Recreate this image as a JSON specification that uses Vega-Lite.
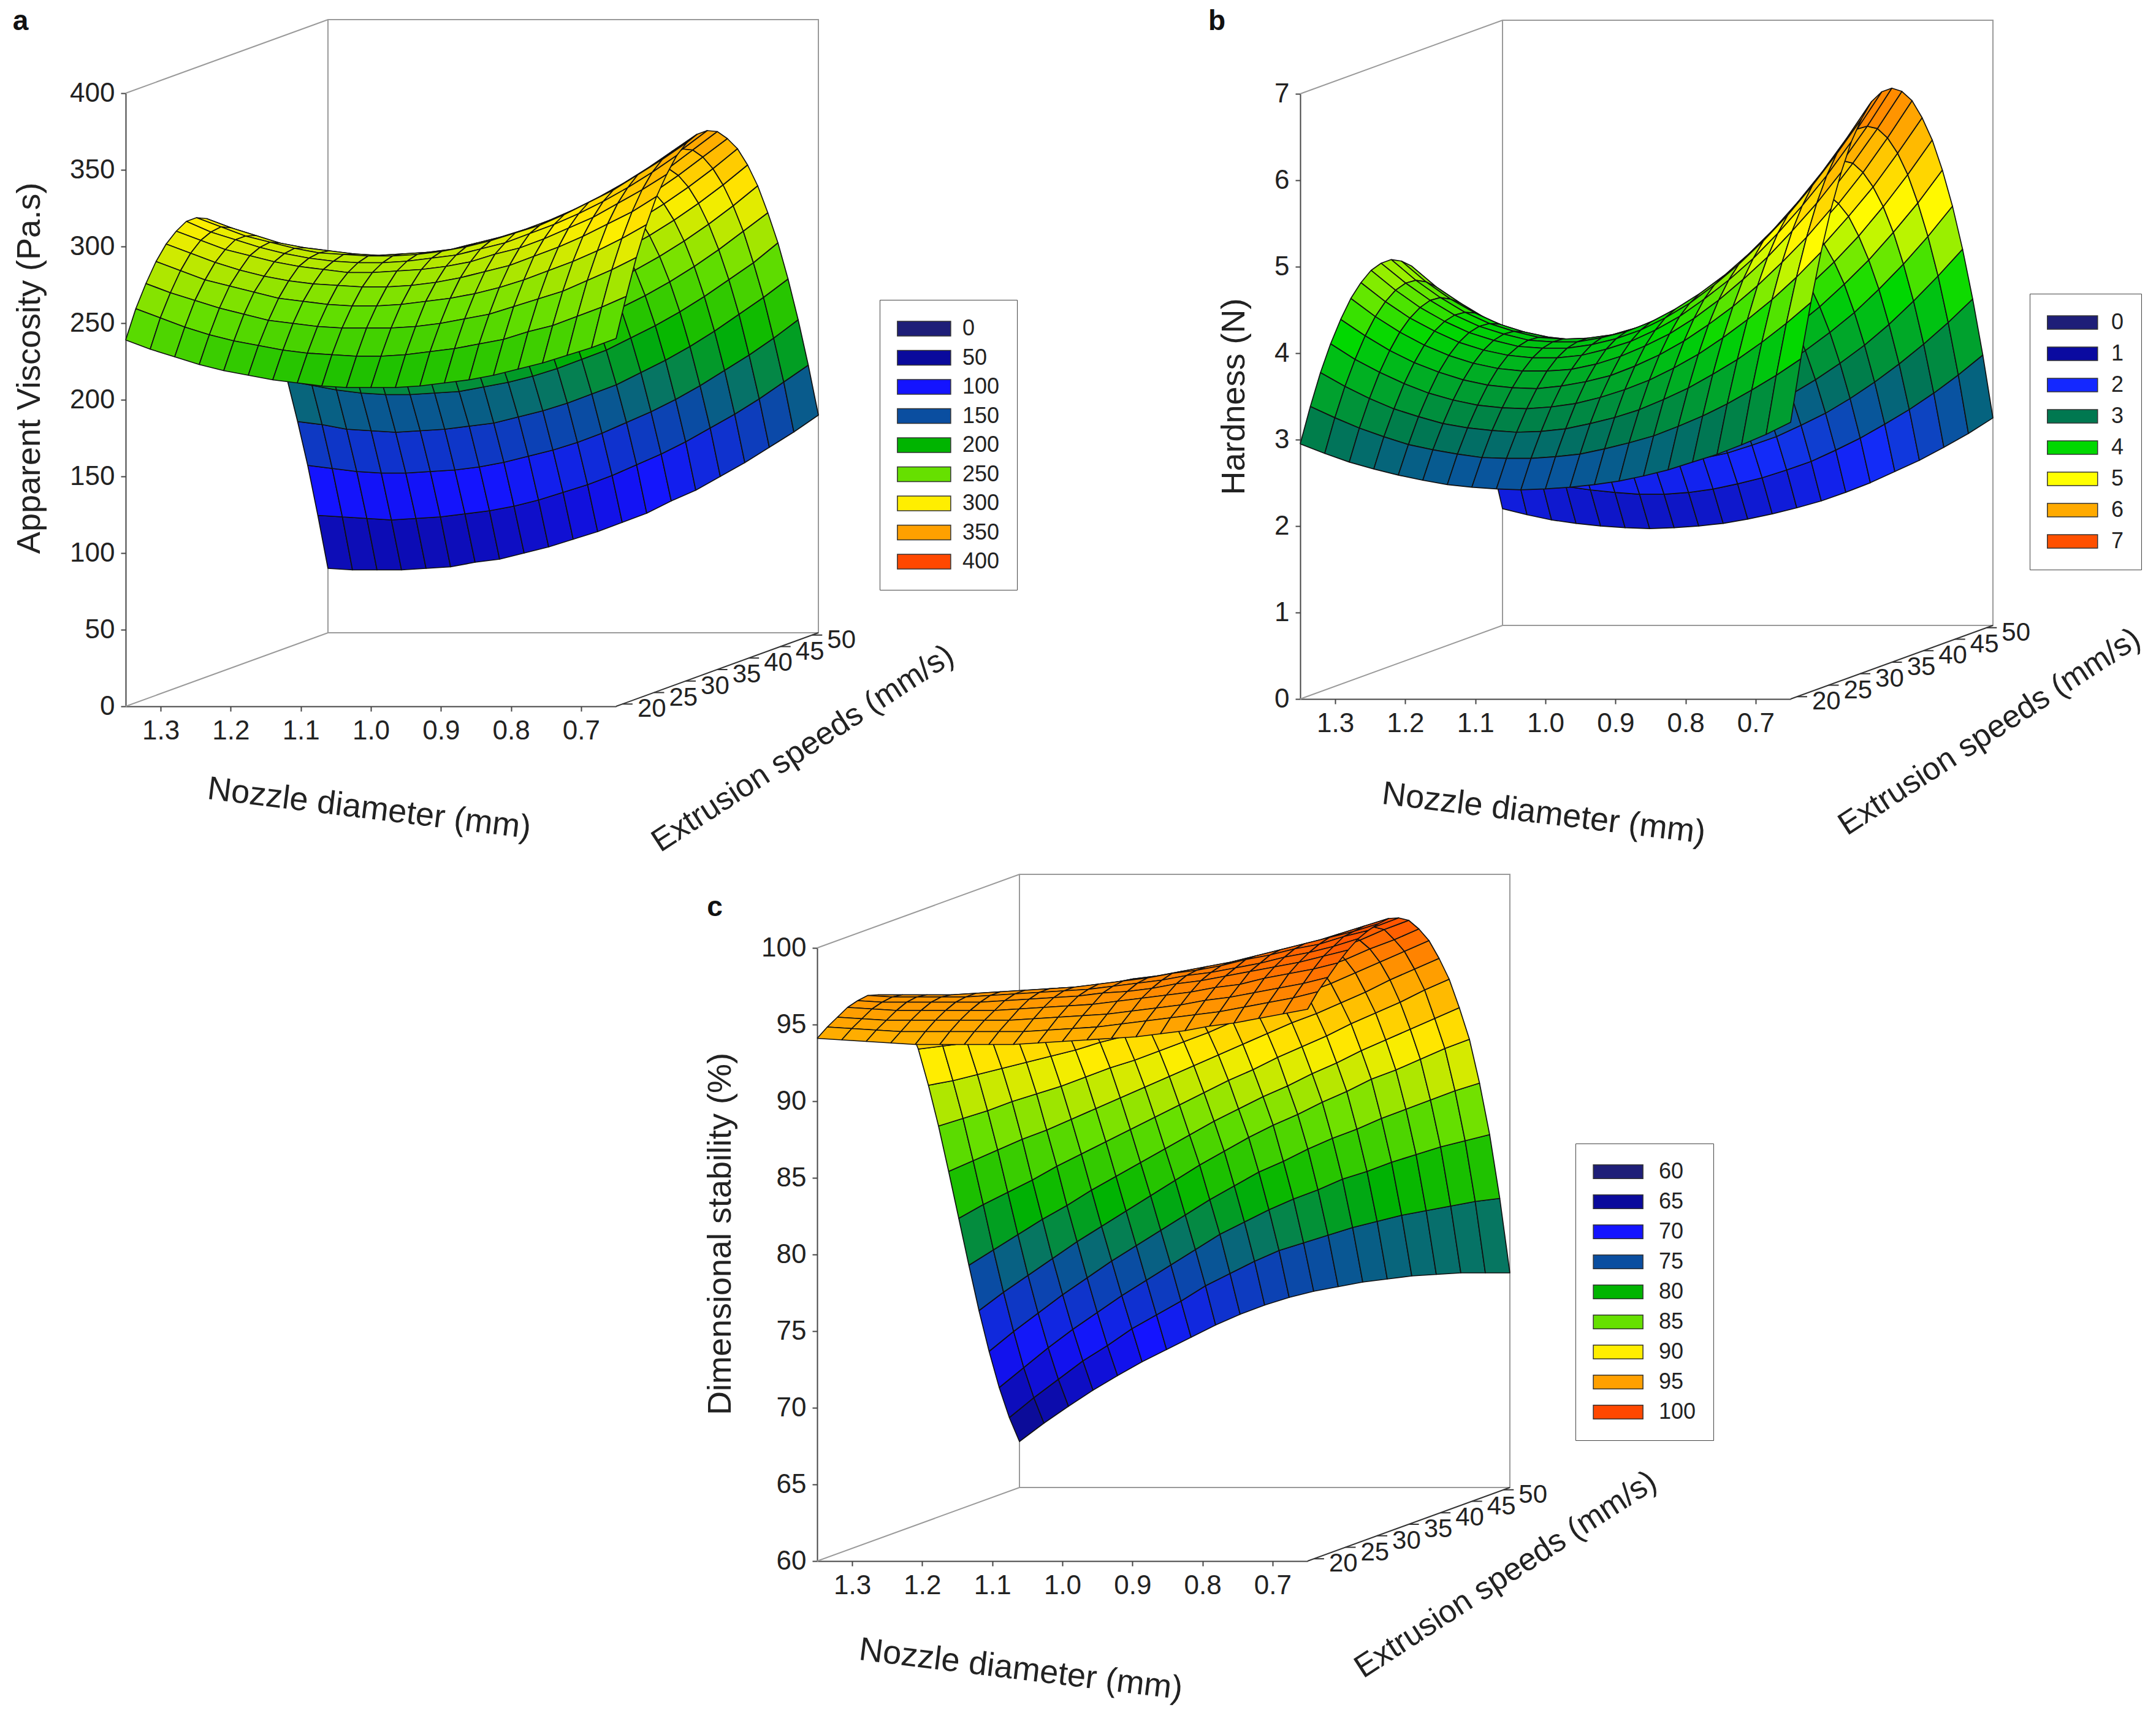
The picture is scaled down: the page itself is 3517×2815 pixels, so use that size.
{
"$schema":"https://vega.github.io/schema/vega-lite/v6.json",
"width":3517,"height":2815,"autosize":"none","padding":0,"background":"white",
"config":{"view":{"stroke":null},"font":"Liberation Sans",
"axis":{"labelFont":"Liberation Sans","titleFont":"Liberation Sans","labelFontSize":44,"titleFontSize":54,"titleFontWeight":"normal","labelColor":"#222","titleColor":"#222","domainColor":"#444","tickColor":"#444","domainWidth":2,"tickWidth":2,"tickSize":8,"grid":false,"labelPadding":10},
"legend":{"labelFont":"Liberation Sans","labelFontSize":36,"labelColor":"#222","symbolStrokeColor":"#333","symbolStrokeWidth":1.5,"strokeColor":"#444","fillColor":"white","padding":28,"symbolOpacity":1}},
"datasets":{
"grid":[
{"p":"0_0","n":1.35,"s":19,"va":239,"vb":2.95,"vc":94.1},{"p":"0_1","n":1.35,"s":20.6,"va":257,"vb":3.34,"vc":94.6},{"p":"0_2","n":1.35,"s":22.2,"va":271,"vb":3.69,"vc":95.0},{"p":"0_3","n":1.35,"s":23.8,"va":283,"vb":3.98,"vc":95.4},{"p":"0_4","n":1.35,"s":25.4,"va":292,"vb":4.22,"vc":95.6},{"p":"0_5","n":1.35,"s":27,"va":298,"vb":4.42,"vc":95.7},{"p":"0_6","n":1.35,"s":28.6,"va":302,"vb":4.56,"vc":95.5},{"p":"0_7","n":1.35,"s":30.2,"va":302,"vb":4.66,"vc":95.1},{"p":"0_8","n":1.35,"s":31.8,"va":299,"vb":4.70,"vc":94.3},{"p":"0_9","n":1.35,"s":33.4,"va":294,"vb":4.70,"vc":92.9},{"p":"0_10","n":1.35,"s":35,"va":285,"vb":4.64,"vc":91.0},{"p":"0_11","n":1.35,"s":36.6,"va":274,"vb":4.54,"vc":88.4},{"p":"0_12","n":1.35,"s":38.2,"va":260,"vb":4.38,"vc":85.5},{"p":"0_13","n":1.35,"s":39.8,"va":243,"vb":4.18,"vc":82.3},{"p":"0_14","n":1.35,"s":41.4,"va":223,"vb":3.92,"vc":79.0},{"p":"0_15","n":1.35,"s":43,"va":200,"vb":3.62,"vc":75.7},{"p":"0_16","n":1.35,"s":44.6,"va":174,"vb":3.26,"vc":72.5},{"p":"0_17","n":1.35,"s":46.2,"va":145,"vb":2.86,"vc":69.6},{"p":"0_18","n":1.35,"s":47.8,"va":114,"vb":2.41,"vc":67.0},{"p":"0_19","n":1.35,"s":49.4,"va":79,"vb":1.90,"vc":64.8},{"p":"0_20","n":1.35,"s":51,"va":42,"vb":1.35,"vc":63.0},
{"p":"1_0","n":1.315,"s":19,"va":233,"vb":2.84,"vc":94.0},{"p":"1_1","n":1.315,"s":20.6,"va":251,"vb":3.21,"vc":94.5},{"p":"1_2","n":1.315,"s":22.2,"va":265,"vb":3.53,"vc":94.9},{"p":"1_3","n":1.315,"s":23.8,"va":277,"vb":3.80,"vc":95.3},{"p":"1_4","n":1.315,"s":25.4,"va":286,"vb":4.03,"vc":95.5},{"p":"1_5","n":1.315,"s":27,"va":292,"vb":4.21,"vc":95.6},{"p":"1_6","n":1.315,"s":28.6,"va":295,"vb":4.34,"vc":95.5},{"p":"1_7","n":1.315,"s":30.2,"va":296,"vb":4.43,"vc":95.1},{"p":"1_8","n":1.315,"s":31.8,"va":293,"vb":4.47,"vc":94.4},{"p":"1_9","n":1.315,"s":33.4,"va":288,"vb":4.46,"vc":93.0},{"p":"1_10","n":1.315,"s":35,"va":280,"vb":4.40,"vc":91.2},{"p":"1_11","n":1.315,"s":36.6,"va":269,"vb":4.30,"vc":88.7},{"p":"1_12","n":1.315,"s":38.2,"va":255,"vb":4.15,"vc":86.0},{"p":"1_13","n":1.315,"s":39.8,"va":238,"vb":3.96,"vc":83.0},{"p":"1_14","n":1.315,"s":41.4,"va":218,"vb":3.72,"vc":79.9},{"p":"1_15","n":1.315,"s":43,"va":196,"vb":3.43,"vc":76.7},{"p":"1_16","n":1.315,"s":44.6,"va":171,"vb":3.09,"vc":73.7},{"p":"1_17","n":1.315,"s":46.2,"va":143,"vb":2.71,"vc":70.9},{"p":"1_18","n":1.315,"s":47.8,"va":112,"vb":2.28,"vc":68.3},{"p":"1_19","n":1.315,"s":49.4,"va":78,"vb":1.80,"vc":66.1},{"p":"1_20","n":1.315,"s":51,"va":41,"vb":1.28,"vc":64.2},
{"p":"2_0","n":1.28,"s":19,"va":228,"vb":2.74,"vc":93.9},{"p":"2_1","n":1.28,"s":20.6,"va":245,"vb":3.09,"vc":94.4},{"p":"2_2","n":1.28,"s":22.2,"va":260,"vb":3.39,"vc":94.8},{"p":"2_3","n":1.28,"s":23.8,"va":271,"vb":3.65,"vc":95.2},{"p":"2_4","n":1.28,"s":25.4,"va":280,"vb":3.86,"vc":95.5},{"p":"2_5","n":1.28,"s":27,"va":286,"vb":4.03,"vc":95.6},{"p":"2_6","n":1.28,"s":28.6,"va":290,"vb":4.15,"vc":95.5},{"p":"2_7","n":1.28,"s":30.2,"va":290,"vb":4.23,"vc":95.1},{"p":"2_8","n":1.28,"s":31.8,"va":288,"vb":4.27,"vc":94.4},{"p":"2_9","n":1.28,"s":33.4,"va":283,"vb":4.26,"vc":93.2},{"p":"2_10","n":1.28,"s":35,"va":275,"vb":4.20,"vc":91.4},{"p":"2_11","n":1.28,"s":36.6,"va":264,"vb":4.11,"vc":89.1},{"p":"2_12","n":1.28,"s":38.2,"va":250,"vb":3.96,"vc":86.5},{"p":"2_13","n":1.28,"s":39.8,"va":234,"vb":3.78,"vc":83.7},{"p":"2_14","n":1.28,"s":41.4,"va":215,"vb":3.54,"vc":80.7},{"p":"2_15","n":1.28,"s":43,"va":193,"vb":3.27,"vc":77.7},{"p":"2_16","n":1.28,"s":44.6,"va":168,"vb":2.95,"vc":74.8},{"p":"2_17","n":1.28,"s":46.2,"va":140,"vb":2.58,"vc":72.1},{"p":"2_18","n":1.28,"s":47.8,"va":110,"vb":2.17,"vc":69.6},{"p":"2_19","n":1.28,"s":49.4,"va":77,"vb":1.72,"vc":67.3},{"p":"2_20","n":1.28,"s":51,"va":41,"vb":1.22,"vc":65.3},
{"p":"3_0","n":1.245,"s":19,"va":223,"vb":2.66,"vc":93.8},{"p":"3_1","n":1.245,"s":20.6,"va":240,"vb":2.99,"vc":94.3},{"p":"3_2","n":1.245,"s":22.2,"va":255,"vb":3.27,"vc":94.8},{"p":"3_3","n":1.245,"s":23.8,"va":267,"vb":3.52,"vc":95.2},{"p":"3_4","n":1.245,"s":25.4,"va":275,"vb":3.72,"vc":95.5},{"p":"3_5","n":1.245,"s":27,"va":282,"vb":3.88,"vc":95.6},{"p":"3_6","n":1.245,"s":28.6,"va":285,"vb":4.00,"vc":95.5},{"p":"3_7","n":1.245,"s":30.2,"va":286,"vb":4.07,"vc":95.2},{"p":"3_8","n":1.245,"s":31.8,"va":283,"vb":4.10,"vc":94.5},{"p":"3_9","n":1.245,"s":33.4,"va":278,"vb":4.09,"vc":93.3},{"p":"3_10","n":1.245,"s":35,"va":271,"vb":4.04,"vc":91.6},{"p":"3_11","n":1.245,"s":36.6,"va":260,"vb":3.94,"vc":89.5},{"p":"3_12","n":1.245,"s":38.2,"va":247,"vb":3.81,"vc":87.1},{"p":"3_13","n":1.245,"s":39.8,"va":231,"vb":3.63,"vc":84.4},{"p":"3_14","n":1.245,"s":41.4,"va":212,"vb":3.40,"vc":81.5},{"p":"3_15","n":1.245,"s":43,"va":191,"vb":3.14,"vc":78.7},{"p":"3_16","n":1.245,"s":44.6,"va":166,"vb":2.83,"vc":75.9},{"p":"3_17","n":1.245,"s":46.2,"va":139,"vb":2.48,"vc":73.3},{"p":"3_18","n":1.245,"s":47.8,"va":109,"vb":2.09,"vc":70.8},{"p":"3_19","n":1.245,"s":49.4,"va":76,"vb":1.65,"vc":68.5},{"p":"3_20","n":1.245,"s":51,"va":41,"vb":1.18,"vc":66.35},
{"p":"4_0","n":1.21,"s":19,"va":219,"vb":2.59,"vc":93.7},{"p":"4_1","n":1.21,"s":20.6,"va":236,"vb":2.90,"vc":94.3},{"p":"4_2","n":1.21,"s":22.2,"va":251,"vb":3.18,"vc":94.8},{"p":"4_3","n":1.21,"s":23.8,"va":263,"vb":3.41,"vc":95.2},{"p":"4_4","n":1.21,"s":25.4,"va":271,"vb":3.61,"vc":95.5},{"p":"4_5","n":1.21,"s":27,"va":278,"vb":3.76,"vc":95.6},{"p":"4_6","n":1.21,"s":28.6,"va":281,"vb":3.87,"vc":95.6},{"p":"4_7","n":1.21,"s":30.2,"va":282,"vb":3.94,"vc":95.3},{"p":"4_8","n":1.21,"s":31.8,"va":280,"vb":3.97,"vc":94.7},{"p":"4_9","n":1.21,"s":33.4,"va":275,"vb":3.96,"vc":93.5},{"p":"4_10","n":1.21,"s":35,"va":268,"vb":3.91,"vc":91.9},{"p":"4_11","n":1.21,"s":36.6,"va":258,"vb":3.82,"vc":89.9},{"p":"4_12","n":1.21,"s":38.2,"va":245,"vb":3.68,"vc":87.6},{"p":"4_13","n":1.21,"s":39.8,"va":229,"vb":3.51,"vc":85.0},{"p":"4_14","n":1.21,"s":41.4,"va":210,"vb":3.29,"vc":82.4},{"p":"4_15","n":1.21,"s":43,"va":189,"vb":3.04,"vc":79.6},{"p":"4_16","n":1.21,"s":44.6,"va":165,"vb":2.74,"vc":77.0},{"p":"4_17","n":1.21,"s":46.2,"va":138,"vb":2.40,"vc":74.4},{"p":"4_18","n":1.21,"s":47.8,"va":109,"vb":2.03,"vc":71.9},{"p":"4_19","n":1.21,"s":49.4,"va":77,"vb":1.61,"vc":69.5},{"p":"4_20","n":1.21,"s":51,"va":42,"vb":1.15,"vc":67.3},
{"p":"5_0","n":1.175,"s":19,"va":216,"vb":2.53,"vc":93.7},{"p":"5_1","n":1.175,"s":20.6,"va":233,"vb":2.84,"vc":94.3},{"p":"5_2","n":1.175,"s":22.2,"va":247,"vb":3.10,"vc":94.8},{"p":"5_3","n":1.175,"s":23.8,"va":259,"vb":3.33,"vc":95.2},{"p":"5_4","n":1.175,"s":25.4,"va":268,"vb":3.52,"vc":95.5},{"p":"5_5","n":1.175,"s":27,"va":275,"vb":3.67,"vc":95.7},{"p":"5_6","n":1.175,"s":28.6,"va":278,"vb":3.78,"vc":95.7},{"p":"5_7","n":1.175,"s":30.2,"va":279,"vb":3.85,"vc":95.4},{"p":"5_8","n":1.175,"s":31.8,"va":278,"vb":3.88,"vc":94.8},{"p":"5_9","n":1.175,"s":33.4,"va":273,"vb":3.87,"vc":93.7},{"p":"5_10","n":1.175,"s":35,"va":266,"vb":3.82,"vc":92.2},{"p":"5_11","n":1.175,"s":36.6,"va":256,"vb":3.73,"vc":90.3},{"p":"5_12","n":1.175,"s":38.2,"va":243,"vb":3.60,"vc":88.1},{"p":"5_13","n":1.175,"s":39.8,"va":228,"vb":3.43,"vc":85.7},{"p":"5_14","n":1.175,"s":41.4,"va":210,"vb":3.22,"vc":83.2},{"p":"5_15","n":1.175,"s":43,"va":189,"vb":2.97,"vc":80.6},{"p":"5_16","n":1.175,"s":44.6,"va":165,"vb":2.68,"vc":78.0},{"p":"5_17","n":1.175,"s":46.2,"va":139,"vb":2.35,"vc":75.5},{"p":"5_18","n":1.175,"s":47.8,"va":110,"vb":1.98,"vc":73.0},{"p":"5_19","n":1.175,"s":49.4,"va":78,"vb":1.58,"vc":70.6},{"p":"5_20","n":1.175,"s":51,"va":43,"vb":1.13,"vc":68.2},
{"p":"6_0","n":1.14,"s":19,"va":213,"vb":2.48,"vc":93.7},{"p":"6_1","n":1.14,"s":20.6,"va":230,"vb":2.79,"vc":94.3},{"p":"6_2","n":1.14,"s":22.2,"va":245,"vb":3.05,"vc":94.8},{"p":"6_3","n":1.14,"s":23.8,"va":257,"vb":3.27,"vc":95.2},{"p":"6_4","n":1.14,"s":25.4,"va":266,"vb":3.46,"vc":95.6},{"p":"6_5","n":1.14,"s":27,"va":273,"vb":3.61,"vc":95.8},{"p":"6_6","n":1.14,"s":28.6,"va":276,"vb":3.72,"vc":95.8},{"p":"6_7","n":1.14,"s":30.2,"va":278,"vb":3.78,"vc":95.5},{"p":"6_8","n":1.14,"s":31.8,"va":276,"vb":3.81,"vc":95.0},{"p":"6_9","n":1.14,"s":33.4,"va":272,"vb":3.80,"vc":94.0},{"p":"6_10","n":1.14,"s":35,"va":265,"vb":3.76,"vc":92.5},{"p":"6_11","n":1.14,"s":36.6,"va":255,"vb":3.67,"vc":90.7},{"p":"6_12","n":1.14,"s":38.2,"va":243,"vb":3.54,"vc":88.7},{"p":"6_13","n":1.14,"s":39.8,"va":227,"vb":3.38,"vc":86.4},{"p":"6_14","n":1.14,"s":41.4,"va":210,"vb":3.17,"vc":84.0},{"p":"6_15","n":1.14,"s":43,"va":189,"vb":2.93,"vc":81.5},{"p":"6_16","n":1.14,"s":44.6,"va":166,"vb":2.64,"vc":79.0},{"p":"6_17","n":1.14,"s":46.2,"va":140,"vb":2.32,"vc":76.5},{"p":"6_18","n":1.14,"s":47.8,"va":111,"vb":1.96,"vc":74.0},{"p":"6_19","n":1.14,"s":49.4,"va":80,"vb":1.56,"vc":71.5},{"p":"6_20","n":1.14,"s":51,"va":46,"vb":1.12,"vc":69.0},
{"p":"7_0","n":1.105,"s":19,"va":211,"vb":2.45,"vc":93.7},{"p":"7_1","n":1.105,"s":20.6,"va":228,"vb":2.75,"vc":94.3},{"p":"7_2","n":1.105,"s":22.2,"va":243,"vb":3.02,"vc":94.8},{"p":"7_3","n":1.105,"s":23.8,"va":255,"vb":3.24,"vc":95.3},{"p":"7_4","n":1.105,"s":25.4,"va":265,"vb":3.43,"vc":95.7},{"p":"7_5","n":1.105,"s":27,"va":271,"vb":3.58,"vc":95.9},{"p":"7_6","n":1.105,"s":28.6,"va":275,"vb":3.69,"vc":95.9},{"p":"7_7","n":1.105,"s":30.2,"va":277,"vb":3.76,"vc":95.7},{"p":"7_8","n":1.105,"s":31.8,"va":275,"vb":3.79,"vc":95.2},{"p":"7_9","n":1.105,"s":33.4,"va":271,"vb":3.78,"vc":94.2},{"p":"7_10","n":1.105,"s":35,"va":265,"vb":3.73,"vc":92.8},{"p":"7_11","n":1.105,"s":36.6,"va":255,"vb":3.65,"vc":91.2},{"p":"7_12","n":1.105,"s":38.2,"va":243,"vb":3.52,"vc":89.3},{"p":"7_13","n":1.105,"s":39.8,"va":228,"vb":3.36,"vc":87.1},{"p":"7_14","n":1.105,"s":41.4,"va":211,"vb":3.16,"vc":84.8},{"p":"7_15","n":1.105,"s":43,"va":190,"vb":2.92,"vc":82.4},{"p":"7_16","n":1.105,"s":44.6,"va":167,"vb":2.64,"vc":80.0},{"p":"7_17","n":1.105,"s":46.2,"va":142,"vb":2.32,"vc":77.5},{"p":"7_18","n":1.105,"s":47.8,"va":113,"vb":1.96,"vc":75.0},{"p":"7_19","n":1.105,"s":49.4,"va":82,"vb":1.56,"vc":72.4},{"p":"7_20","n":1.105,"s":51,"va":48,"vb":1.13,"vc":69.8},
{"p":"8_0","n":1.07,"s":19,"va":209,"vb":2.43,"vc":93.7},{"p":"8_1","n":1.07,"s":20.6,"va":227,"vb":2.74,"vc":94.3},{"p":"8_2","n":1.07,"s":22.2,"va":242,"vb":3.00,"vc":94.9},{"p":"8_3","n":1.07,"s":23.8,"va":254,"vb":3.23,"vc":95.4},{"p":"8_4","n":1.07,"s":25.4,"va":264,"vb":3.42,"vc":95.8},{"p":"8_5","n":1.07,"s":27,"va":271,"vb":3.58,"vc":96.0},{"p":"8_6","n":1.07,"s":28.6,"va":275,"vb":3.69,"vc":96.0},{"p":"8_7","n":1.07,"s":30.2,"va":277,"vb":3.76,"vc":95.8},{"p":"8_8","n":1.07,"s":31.8,"va":276,"vb":3.79,"vc":95.4},{"p":"8_9","n":1.07,"s":33.4,"va":272,"vb":3.79,"vc":94.5},{"p":"8_10","n":1.07,"s":35,"va":265,"vb":3.74,"vc":93.2},{"p":"8_11","n":1.07,"s":36.6,"va":256,"vb":3.66,"vc":91.6},{"p":"8_12","n":1.07,"s":38.2,"va":244,"vb":3.54,"vc":89.8},{"p":"8_13","n":1.07,"s":39.8,"va":230,"vb":3.38,"vc":87.8},{"p":"8_14","n":1.07,"s":41.4,"va":212,"vb":3.18,"vc":85.6},{"p":"8_15","n":1.07,"s":43,"va":192,"vb":2.94,"vc":83.3},{"p":"8_16","n":1.07,"s":44.6,"va":170,"vb":2.66,"vc":81.0},{"p":"8_17","n":1.07,"s":46.2,"va":144,"vb":2.34,"vc":78.5},{"p":"8_18","n":1.07,"s":47.8,"va":116,"vb":1.98,"vc":76.0},{"p":"8_19","n":1.07,"s":49.4,"va":85,"vb":1.58,"vc":73.4},{"p":"8_20","n":1.07,"s":51,"va":52,"vb":1.15,"vc":70.6},
{"p":"9_0","n":1.035,"s":19,"va":208,"vb":2.42,"vc":93.8},{"p":"9_1","n":1.035,"s":20.6,"va":226,"vb":2.74,"vc":94.4},{"p":"9_2","n":1.035,"s":22.2,"va":242,"vb":3.01,"vc":95.0},{"p":"9_3","n":1.035,"s":23.8,"va":254,"vb":3.25,"vc":95.5},{"p":"9_4","n":1.035,"s":25.4,"va":264,"vb":3.45,"vc":95.9},{"p":"9_5","n":1.035,"s":27,"va":272,"vb":3.60,"vc":96.1},{"p":"9_6","n":1.035,"s":28.6,"va":276,"vb":3.72,"vc":96.2},{"p":"9_7","n":1.035,"s":30.2,"va":278,"vb":3.80,"vc":96.0},{"p":"9_8","n":1.035,"s":31.8,"va":277,"vb":3.84,"vc":95.7},{"p":"9_9","n":1.035,"s":33.4,"va":274,"vb":3.83,"vc":94.8},{"p":"9_10","n":1.035,"s":35,"va":267,"vb":3.79,"vc":93.6},{"p":"9_11","n":1.035,"s":36.6,"va":258,"vb":3.71,"vc":92.1},{"p":"9_12","n":1.035,"s":38.2,"va":247,"vb":3.59,"vc":90.4},{"p":"9_13","n":1.035,"s":39.8,"va":232,"vb":3.43,"vc":88.5},{"p":"9_14","n":1.035,"s":41.4,"va":215,"vb":3.22,"vc":86.4},{"p":"9_15","n":1.035,"s":43,"va":195,"vb":2.98,"vc":84.2},{"p":"9_16","n":1.035,"s":44.6,"va":173,"vb":2.70,"vc":82.0},{"p":"9_17","n":1.035,"s":46.2,"va":148,"vb":2.38,"vc":79.5},{"p":"9_18","n":1.035,"s":47.8,"va":120,"vb":2.02,"vc":77.0},{"p":"9_19","n":1.035,"s":49.4,"va":89,"vb":1.62,"vc":74.2},{"p":"9_20","n":1.035,"s":51,"va":56,"vb":1.18,"vc":71.3},
{"p":"10_0","n":1,"s":19,"va":208,"vb":2.43,"vc":93.9},{"p":"10_1","n":1,"s":20.6,"va":226,"vb":2.76,"vc":94.5},{"p":"10_2","n":1,"s":22.2,"va":242,"vb":3.04,"vc":95.1},{"p":"10_3","n":1,"s":23.8,"va":255,"vb":3.29,"vc":95.6},{"p":"10_4","n":1,"s":25.4,"va":265,"vb":3.50,"vc":96.1},{"p":"10_5","n":1,"s":27,"va":273,"vb":3.66,"vc":96.3},{"p":"10_6","n":1,"s":28.6,"va":278,"vb":3.79,"vc":96.4},{"p":"10_7","n":1,"s":30.2,"va":280,"vb":3.87,"vc":96.3},{"p":"10_8","n":1,"s":31.8,"va":279,"vb":3.91,"vc":96.0},{"p":"10_9","n":1,"s":33.4,"va":276,"vb":3.91,"vc":95.2},{"p":"10_10","n":1,"s":35,"va":270,"vb":3.87,"vc":94.0},{"p":"10_11","n":1,"s":36.6,"va":261,"vb":3.79,"vc":92.6},{"p":"10_12","n":1,"s":38.2,"va":250,"vb":3.67,"vc":91.0},{"p":"10_13","n":1,"s":39.8,"va":236,"vb":3.51,"vc":89.2},{"p":"10_14","n":1,"s":41.4,"va":219,"vb":3.31,"vc":87.2},{"p":"10_15","n":1,"s":43,"va":199,"vb":3.06,"vc":85.1},{"p":"10_16","n":1,"s":44.6,"va":177,"vb":2.78,"vc":82.9},{"p":"10_17","n":1,"s":46.2,"va":152,"vb":2.45,"vc":80.4},{"p":"10_18","n":1,"s":47.8,"va":124,"vb":2.08,"vc":77.8},{"p":"10_19","n":1,"s":49.4,"va":94,"vb":1.68,"vc":75.0},{"p":"10_20","n":1,"s":51,"va":61,"vb":1.23,"vc":71.9},
{"p":"11_0","n":0.965,"s":19,"va":208,"vb":2.45,"vc":94.0},{"p":"11_1","n":0.965,"s":20.6,"va":227,"vb":2.79,"vc":94.6},{"p":"11_2","n":0.965,"s":22.2,"va":243,"vb":3.10,"vc":95.2},{"p":"11_3","n":0.965,"s":23.8,"va":257,"vb":3.36,"vc":95.8},{"p":"11_4","n":0.965,"s":25.4,"va":267,"vb":3.57,"vc":96.2},{"p":"11_5","n":0.965,"s":27,"va":275,"vb":3.75,"vc":96.5},{"p":"11_6","n":0.965,"s":28.6,"va":280,"vb":3.88,"vc":96.6},{"p":"11_7","n":0.965,"s":30.2,"va":283,"vb":3.97,"vc":96.5},{"p":"11_8","n":0.965,"s":31.8,"va":283,"vb":4.02,"vc":96.2},{"p":"11_9","n":0.965,"s":33.4,"va":280,"vb":4.03,"vc":95.5},{"p":"11_10","n":0.965,"s":35,"va":274,"vb":3.99,"vc":94.4},{"p":"11_11","n":0.965,"s":36.6,"va":265,"vb":3.91,"vc":93.1},{"p":"11_12","n":0.965,"s":38.2,"va":254,"vb":3.79,"vc":91.6},{"p":"11_13","n":0.965,"s":39.8,"va":240,"vb":3.63,"vc":89.9},{"p":"11_14","n":0.965,"s":41.4,"va":223,"vb":3.42,"vc":88.0},{"p":"11_15","n":0.965,"s":43,"va":204,"vb":3.17,"vc":85.9},{"p":"11_16","n":0.965,"s":44.6,"va":182,"vb":2.88,"vc":83.8},{"p":"11_17","n":0.965,"s":46.2,"va":157,"vb":2.54,"vc":81.3},{"p":"11_18","n":0.965,"s":47.8,"va":129,"vb":2.17,"vc":78.6},{"p":"11_19","n":0.965,"s":49.4,"va":99,"vb":1.75,"vc":75.7},{"p":"11_20","n":0.965,"s":51,"va":66,"vb":1.29,"vc":72.4},
{"p":"12_0","n":0.93,"s":19,"va":209,"vb":2.48,"vc":94.1},{"p":"12_1","n":0.93,"s":20.6,"va":229,"vb":2.85,"vc":94.8},{"p":"12_2","n":0.93,"s":22.2,"va":245,"vb":3.17,"vc":95.4},{"p":"12_3","n":0.93,"s":23.8,"va":259,"vb":3.45,"vc":96.0},{"p":"12_4","n":0.93,"s":25.4,"va":270,"vb":3.68,"vc":96.4},{"p":"12_5","n":0.93,"s":27,"va":278,"vb":3.87,"vc":96.7},{"p":"12_6","n":0.93,"s":28.6,"va":284,"vb":4.01,"vc":96.9},{"p":"12_7","n":0.93,"s":30.2,"va":287,"vb":4.11,"vc":96.8},{"p":"12_8","n":0.93,"s":31.8,"va":287,"vb":4.17,"vc":96.6},{"p":"12_9","n":0.93,"s":33.4,"va":284,"vb":4.18,"vc":95.9},{"p":"12_10","n":0.93,"s":35,"va":279,"vb":4.14,"vc":94.9},{"p":"12_11","n":0.93,"s":36.6,"va":270,"vb":4.07,"vc":93.7},{"p":"12_12","n":0.93,"s":38.2,"va":259,"vb":3.94,"vc":92.3},{"p":"12_13","n":0.93,"s":39.8,"va":246,"vb":3.78,"vc":90.6},{"p":"12_14","n":0.93,"s":41.4,"va":229,"vb":3.56,"vc":88.7},{"p":"12_15","n":0.93,"s":43,"va":210,"vb":3.31,"vc":86.7},{"p":"12_16","n":0.93,"s":44.6,"va":188,"vb":3.01,"vc":84.6},{"p":"12_17","n":0.93,"s":46.2,"va":163,"vb":2.66,"vc":82.0},{"p":"12_18","n":0.93,"s":47.8,"va":135,"vb":2.27,"vc":79.3},{"p":"12_19","n":0.93,"s":49.4,"va":105,"vb":1.84,"vc":76.2},{"p":"12_20","n":0.93,"s":51,"va":72,"vb":1.36,"vc":72.8},
{"p":"13_0","n":0.895,"s":19,"va":211,"vb":2.52,"vc":94.2},{"p":"13_1","n":0.895,"s":20.6,"va":231,"vb":2.92,"vc":95.0},{"p":"13_2","n":0.895,"s":22.2,"va":248,"vb":3.26,"vc":95.6},{"p":"13_3","n":0.895,"s":23.8,"va":262,"vb":3.56,"vc":96.2},{"p":"13_4","n":0.895,"s":25.4,"va":274,"vb":3.81,"vc":96.7},{"p":"13_5","n":0.895,"s":27,"va":283,"vb":4.01,"vc":97.0},{"p":"13_6","n":0.895,"s":28.6,"va":288,"vb":4.17,"vc":97.1},{"p":"13_7","n":0.895,"s":30.2,"va":292,"vb":4.28,"vc":97.1},{"p":"13_8","n":0.895,"s":31.8,"va":292,"vb":4.35,"vc":96.9},{"p":"13_9","n":0.895,"s":33.4,"va":289,"vb":4.36,"vc":96.3},{"p":"13_10","n":0.895,"s":35,"va":284,"vb":4.33,"vc":95.4},{"p":"13_11","n":0.895,"s":36.6,"va":276,"vb":4.25,"vc":94.2},{"p":"13_12","n":0.895,"s":38.2,"va":265,"vb":4.13,"vc":92.9},{"p":"13_13","n":0.895,"s":39.8,"va":252,"vb":3.96,"vc":91.3},{"p":"13_14","n":0.895,"s":41.4,"va":235,"vb":3.74,"vc":89.5},{"p":"13_15","n":0.895,"s":43,"va":216,"vb":3.47,"vc":87.4},{"p":"13_16","n":0.895,"s":44.6,"va":194,"vb":3.16,"vc":85.3},{"p":"13_17","n":0.895,"s":46.2,"va":169,"vb":2.80,"vc":82.8},{"p":"13_18","n":0.895,"s":47.8,"va":142,"vb":2.40,"vc":79.9},{"p":"13_19","n":0.895,"s":49.4,"va":112,"vb":1.94,"vc":76.7},{"p":"13_20","n":0.895,"s":51,"va":78,"vb":1.44,"vc":73.1},
{"p":"14_0","n":0.86,"s":19,"va":213,"vb":2.58,"vc":94.4},{"p":"14_1","n":0.86,"s":20.6,"va":234,"vb":3.00,"vc":95.2},{"p":"14_2","n":0.86,"s":22.2,"va":251,"vb":3.38,"vc":95.8},{"p":"14_3","n":0.86,"s":23.8,"va":266,"vb":3.70,"vc":96.4},{"p":"14_4","n":0.86,"s":25.4,"va":278,"vb":3.97,"vc":96.9},{"p":"14_5","n":0.86,"s":27,"va":287,"vb":4.19,"vc":97.2},{"p":"14_6","n":0.86,"s":28.6,"va":294,"vb":4.37,"vc":97.4},{"p":"14_7","n":0.86,"s":30.2,"va":297,"vb":4.49,"vc":97.4},{"p":"14_8","n":0.86,"s":31.8,"va":298,"vb":4.56,"vc":97.3},{"p":"14_9","n":0.86,"s":33.4,"va":296,"vb":4.58,"vc":96.7},{"p":"14_10","n":0.86,"s":35,"va":291,"vb":4.56,"vc":95.9},{"p":"14_11","n":0.86,"s":36.6,"va":283,"vb":4.48,"vc":94.8},{"p":"14_12","n":0.86,"s":38.2,"va":272,"vb":4.35,"vc":93.5},{"p":"14_13","n":0.86,"s":39.8,"va":259,"vb":4.18,"vc":92.0},{"p":"14_14","n":0.86,"s":41.4,"va":243,"vb":3.95,"vc":90.2},{"p":"14_15","n":0.86,"s":43,"va":224,"vb":3.67,"vc":88.2},{"p":"14_16","n":0.86,"s":44.6,"va":202,"vb":3.35,"vc":86.1},{"p":"14_17","n":0.86,"s":46.2,"va":177,"vb":2.97,"vc":83.5},{"p":"14_18","n":0.86,"s":47.8,"va":149,"vb":2.54,"vc":80.6},{"p":"14_19","n":0.86,"s":49.4,"va":119,"vb":2.07,"vc":77.2},{"p":"14_20","n":0.86,"s":51,"va":86,"vb":1.54,"vc":73.4},
{"p":"15_0","n":0.825,"s":19,"va":216,"vb":2.65,"vc":94.6},{"p":"15_1","n":0.825,"s":20.6,"va":237,"vb":3.11,"vc":95.4},{"p":"15_2","n":0.825,"s":22.2,"va":256,"vb":3.51,"vc":96.1},{"p":"15_3","n":0.825,"s":23.8,"va":271,"vb":3.86,"vc":96.7},{"p":"15_4","n":0.825,"s":25.4,"va":284,"vb":4.16,"vc":97.2},{"p":"15_5","n":0.825,"s":27,"va":293,"vb":4.40,"vc":97.5},{"p":"15_6","n":0.825,"s":28.6,"va":300,"vb":4.59,"vc":97.8},{"p":"15_7","n":0.825,"s":30.2,"va":304,"vb":4.73,"vc":97.8},{"p":"15_8","n":0.825,"s":31.8,"va":305,"vb":4.81,"vc":97.7},{"p":"15_9","n":0.825,"s":33.4,"va":303,"vb":4.84,"vc":97.2},{"p":"15_10","n":0.825,"s":35,"va":298,"vb":4.82,"vc":96.4},{"p":"15_11","n":0.825,"s":36.6,"va":291,"vb":4.74,"vc":95.4},{"p":"15_12","n":0.825,"s":38.2,"va":280,"vb":4.61,"vc":94.2},{"p":"15_13","n":0.825,"s":39.8,"va":267,"vb":4.43,"vc":92.6},{"p":"15_14","n":0.825,"s":41.4,"va":251,"vb":4.19,"vc":90.9},{"p":"15_15","n":0.825,"s":43,"va":232,"vb":3.90,"vc":88.9},{"p":"15_16","n":0.825,"s":44.6,"va":210,"vb":3.56,"vc":86.8},{"p":"15_17","n":0.825,"s":46.2,"va":185,"vb":3.16,"vc":84.1},{"p":"15_18","n":0.825,"s":47.8,"va":157,"vb":2.71,"vc":81.1},{"p":"15_19","n":0.825,"s":49.4,"va":127,"vb":2.21,"vc":77.6},{"p":"15_20","n":0.825,"s":51,"va":93,"vb":1.65,"vc":73.6},
{"p":"16_0","n":0.79,"s":19,"va":220,"vb":2.74,"vc":94.9},{"p":"16_1","n":0.79,"s":20.6,"va":242,"vb":3.23,"vc":95.6},{"p":"16_2","n":0.79,"s":22.2,"va":261,"vb":3.67,"vc":96.3},{"p":"16_3","n":0.79,"s":23.8,"va":277,"vb":4.05,"vc":96.9},{"p":"16_4","n":0.79,"s":25.4,"va":290,"vb":4.37,"vc":97.5},{"p":"16_5","n":0.79,"s":27,"va":300,"vb":4.64,"vc":97.8},{"p":"16_6","n":0.79,"s":28.6,"va":307,"vb":4.84,"vc":98.1},{"p":"16_7","n":0.79,"s":30.2,"va":312,"vb":5.00,"vc":98.2},{"p":"16_8","n":0.79,"s":31.8,"va":313,"vb":5.09,"vc":98.1},{"p":"16_9","n":0.79,"s":33.4,"va":311,"vb":5.13,"vc":97.7},{"p":"16_10","n":0.79,"s":35,"va":307,"vb":5.11,"vc":97.0},{"p":"16_11","n":0.79,"s":36.6,"va":300,"vb":5.03,"vc":96.0},{"p":"16_12","n":0.79,"s":38.2,"va":289,"vb":4.90,"vc":94.8},{"p":"16_13","n":0.79,"s":39.8,"va":276,"vb":4.71,"vc":93.3},{"p":"16_14","n":0.79,"s":41.4,"va":260,"vb":4.46,"vc":91.7},{"p":"16_15","n":0.79,"s":43,"va":241,"vb":4.16,"vc":89.7},{"p":"16_16","n":0.79,"s":44.6,"va":219,"vb":3.79,"vc":87.6},{"p":"16_17","n":0.79,"s":46.2,"va":194,"vb":3.37,"vc":84.8},{"p":"16_18","n":0.79,"s":47.8,"va":166,"vb":2.90,"vc":81.7},{"p":"16_19","n":0.79,"s":49.4,"va":136,"vb":2.37,"vc":78.0},{"p":"16_20","n":0.79,"s":51,"va":102,"vb":1.78,"vc":73.8},
{"p":"17_0","n":0.755,"s":19,"va":224,"vb":2.83,"vc":95.1},{"p":"17_1","n":0.755,"s":20.6,"va":246,"vb":3.37,"vc":95.9},{"p":"17_2","n":0.755,"s":22.2,"va":266,"vb":3.84,"vc":96.6},{"p":"17_3","n":0.755,"s":23.8,"va":283,"vb":4.26,"vc":97.3},{"p":"17_4","n":0.755,"s":25.4,"va":297,"vb":4.61,"vc":97.8},{"p":"17_5","n":0.755,"s":27,"va":307,"vb":4.90,"vc":98.2},{"p":"17_6","n":0.755,"s":28.6,"va":315,"vb":5.13,"vc":98.5},{"p":"17_7","n":0.755,"s":30.2,"va":320,"vb":5.30,"vc":98.6},{"p":"17_8","n":0.755,"s":31.8,"va":322,"vb":5.41,"vc":98.5},{"p":"17_9","n":0.755,"s":33.4,"va":321,"vb":5.45,"vc":98.2},{"p":"17_10","n":0.755,"s":35,"va":317,"vb":5.44,"vc":97.5},{"p":"17_11","n":0.755,"s":36.6,"va":309,"vb":5.36,"vc":96.6},{"p":"17_12","n":0.755,"s":38.2,"va":299,"vb":5.22,"vc":95.5},{"p":"17_13","n":0.755,"s":39.8,"va":286,"vb":5.03,"vc":94.0},{"p":"17_14","n":0.755,"s":41.4,"va":270,"vb":4.76,"vc":92.4},{"p":"17_15","n":0.755,"s":43,"va":251,"vb":4.44,"vc":90.4},{"p":"17_16","n":0.755,"s":44.6,"va":229,"vb":4.06,"vc":88.2},{"p":"17_17","n":0.755,"s":46.2,"va":204,"vb":3.61,"vc":85.4},{"p":"17_18","n":0.755,"s":47.8,"va":176,"vb":3.11,"vc":82.2},{"p":"17_19","n":0.755,"s":49.4,"va":145,"vb":2.54,"vc":78.3},{"p":"17_20","n":0.755,"s":51,"va":111,"vb":1.91,"vc":73.9},
{"p":"18_0","n":0.72,"s":19,"va":229,"vb":2.94,"vc":95.4},{"p":"18_1","n":0.72,"s":20.6,"va":252,"vb":3.53,"vc":96.2},{"p":"18_2","n":0.72,"s":22.2,"va":273,"vb":4.04,"vc":96.9},{"p":"18_3","n":0.72,"s":23.8,"va":290,"vb":4.49,"vc":97.6},{"p":"18_4","n":0.72,"s":25.4,"va":305,"vb":4.88,"vc":98.1},{"p":"18_5","n":0.72,"s":27,"va":316,"vb":5.20,"vc":98.5},{"p":"18_6","n":0.72,"s":28.6,"va":324,"vb":5.45,"vc":98.8},{"p":"18_7","n":0.72,"s":30.2,"va":330,"vb":5.64,"vc":99.0},{"p":"18_8","n":0.72,"s":31.8,"va":332,"vb":5.76,"vc":99.0},{"p":"18_9","n":0.72,"s":33.4,"va":331,"vb":5.82,"vc":98.7},{"p":"18_10","n":0.72,"s":35,"va":327,"vb":5.80,"vc":98.1},{"p":"18_11","n":0.72,"s":36.6,"va":320,"vb":5.73,"vc":97.3},{"p":"18_12","n":0.72,"s":38.2,"va":310,"vb":5.58,"vc":96.2},{"p":"18_13","n":0.72,"s":39.8,"va":297,"vb":5.37,"vc":94.8},{"p":"18_14","n":0.72,"s":41.4,"va":281,"vb":5.10,"vc":93.1},{"p":"18_15","n":0.72,"s":43,"va":262,"vb":4.76,"vc":91.1},{"p":"18_16","n":0.72,"s":44.6,"va":240,"vb":4.35,"vc":88.9},{"p":"18_17","n":0.72,"s":46.2,"va":215,"vb":3.88,"vc":86.0},{"p":"18_18","n":0.72,"s":47.8,"va":186,"vb":3.34,"vc":82.7},{"p":"18_19","n":0.72,"s":49.4,"va":155,"vb":2.73,"vc":78.6},{"p":"18_20","n":0.72,"s":51,"va":121,"vb":2.06,"vc":74.0},
{"p":"19_0","n":0.685,"s":19,"va":234,"vb":3.06,"vc":95.7},{"p":"19_1","n":0.685,"s":20.6,"va":258,"vb":3.70,"vc":96.5},{"p":"19_2","n":0.685,"s":22.2,"va":280,"vb":4.26,"vc":97.2},{"p":"19_3","n":0.685,"s":23.8,"va":298,"vb":4.75,"vc":97.9},{"p":"19_4","n":0.685,"s":25.4,"va":313,"vb":5.17,"vc":98.5},{"p":"19_5","n":0.685,"s":27,"va":325,"vb":5.52,"vc":98.9},{"p":"19_6","n":0.685,"s":28.6,"va":334,"vb":5.80,"vc":99.3},{"p":"19_7","n":0.685,"s":30.2,"va":340,"vb":6.01,"vc":99.4},{"p":"19_8","n":0.685,"s":31.8,"va":343,"vb":6.15,"vc":99.5},{"p":"19_9","n":0.685,"s":33.4,"va":342,"vb":6.21,"vc":99.2},{"p":"19_10","n":0.685,"s":35,"va":339,"vb":6.20,"vc":98.8},{"p":"19_11","n":0.685,"s":36.6,"va":332,"vb":6.13,"vc":97.9},{"p":"19_12","n":0.685,"s":38.2,"va":322,"vb":5.98,"vc":96.9},{"p":"19_13","n":0.685,"s":39.8,"va":309,"vb":5.76,"vc":95.5},{"p":"19_14","n":0.685,"s":41.4,"va":293,"vb":5.47,"vc":93.9},{"p":"19_15","n":0.685,"s":43,"va":274,"vb":5.10,"vc":91.8},{"p":"19_16","n":0.685,"s":44.6,"va":251,"vb":4.67,"vc":89.6},{"p":"19_17","n":0.685,"s":46.2,"va":226,"vb":4.17,"vc":86.6},{"p":"19_18","n":0.685,"s":47.8,"va":197,"vb":3.59,"vc":83.1},{"p":"19_19","n":0.685,"s":49.4,"va":166,"vb":2.94,"vc":78.9},{"p":"19_20","n":0.685,"s":51,"va":131,"vb":2.22,"vc":74.0},
{"p":"20_0","n":0.65,"s":19,"va":240,"vb":3.20,"vc":96.0},{"p":"20_1","n":0.65,"s":20.6,"va":265,"vb":3.89,"vc":96.9},{"p":"20_2","n":0.65,"s":22.2,"va":288,"vb":4.50,"vc":97.6},{"p":"20_3","n":0.65,"s":23.8,"va":307,"vb":5.04,"vc":98.3},{"p":"20_4","n":0.65,"s":25.4,"va":323,"vb":5.50,"vc":98.9},{"p":"20_5","n":0.65,"s":27,"va":335,"vb":5.88,"vc":99.4},{"p":"20_6","n":0.65,"s":28.6,"va":345,"vb":6.19,"vc":99.7},{"p":"20_7","n":0.65,"s":30.2,"va":351,"vb":6.41,"vc":99.9},{"p":"20_8","n":0.65,"s":31.8,"va":354,"vb":6.57,"vc":100.0},{"p":"20_9","n":0.65,"s":33.4,"va":354,"vb":6.64,"vc":99.8},{"p":"20_10","n":0.65,"s":35,"va":351,"vb":6.64,"vc":99.4},{"p":"20_11","n":0.65,"s":36.6,"va":344,"vb":6.56,"vc":98.6},{"p":"20_12","n":0.65,"s":38.2,"va":335,"vb":6.41,"vc":97.6},{"p":"20_13","n":0.65,"s":39.8,"va":322,"vb":6.17,"vc":96.2},{"p":"20_14","n":0.65,"s":41.4,"va":306,"vb":5.87,"vc":94.6},{"p":"20_15","n":0.65,"s":43,"va":286,"vb":5.48,"vc":92.5},{"p":"20_16","n":0.65,"s":44.6,"va":264,"vb":5.02,"vc":90.2},{"p":"20_17","n":0.65,"s":46.2,"va":238,"vb":4.48,"vc":87.1},{"p":"20_18","n":0.65,"s":47.8,"va":209,"vb":3.86,"vc":83.5},{"p":"20_19","n":0.65,"s":49.4,"va":177,"vb":3.17,"vc":79.1},{"p":"20_20","n":0.65,"s":51,"va":142,"vb":2.40,"vc":74.0}
],
"cells":[
{"id":"0_19","q":["0_19","1_19","1_20","0_20","0_19"]},{"id":"1_19","q":["1_19","2_19","2_20","1_20","1_19"]},{"id":"2_19","q":["2_19","3_19","3_20","2_20","2_19"]},{"id":"3_19","q":["3_19","4_19","4_20","3_20","3_19"]},{"id":"4_19","q":["4_19","5_19","5_20","4_20","4_19"]},{"id":"5_19","q":["5_19","6_19","6_20","5_20","5_19"]},{"id":"6_19","q":["6_19","7_19","7_20","6_20","6_19"]},{"id":"7_19","q":["7_19","8_19","8_20","7_20","7_19"]},{"id":"8_19","q":["8_19","9_19","9_20","8_20","8_19"]},{"id":"9_19","q":["9_19","10_19","10_20","9_20","9_19"]},{"id":"10_19","q":["10_19","11_19","11_20","10_20","10_19"]},{"id":"11_19","q":["11_19","12_19","12_20","11_20","11_19"]},{"id":"12_19","q":["12_19","13_19","13_20","12_20","12_19"]},{"id":"13_19","q":["13_19","14_19","14_20","13_20","13_19"]},{"id":"14_19","q":["14_19","15_19","15_20","14_20","14_19"]},{"id":"15_19","q":["15_19","16_19","16_20","15_20","15_19"]},{"id":"16_19","q":["16_19","17_19","17_20","16_20","16_19"]},{"id":"17_19","q":["17_19","18_19","18_20","17_20","17_19"]},{"id":"18_19","q":["18_19","19_19","19_20","18_20","18_19"]},{"id":"19_19","q":["19_19","20_19","20_20","19_20","19_19"]},
{"id":"0_18","q":["0_18","1_18","1_19","0_19","0_18"]},{"id":"1_18","q":["1_18","2_18","2_19","1_19","1_18"]},{"id":"2_18","q":["2_18","3_18","3_19","2_19","2_18"]},{"id":"3_18","q":["3_18","4_18","4_19","3_19","3_18"]},{"id":"4_18","q":["4_18","5_18","5_19","4_19","4_18"]},{"id":"5_18","q":["5_18","6_18","6_19","5_19","5_18"]},{"id":"6_18","q":["6_18","7_18","7_19","6_19","6_18"]},{"id":"7_18","q":["7_18","8_18","8_19","7_19","7_18"]},{"id":"8_18","q":["8_18","9_18","9_19","8_19","8_18"]},{"id":"9_18","q":["9_18","10_18","10_19","9_19","9_18"]},{"id":"10_18","q":["10_18","11_18","11_19","10_19","10_18"]},{"id":"11_18","q":["11_18","12_18","12_19","11_19","11_18"]},{"id":"12_18","q":["12_18","13_18","13_19","12_19","12_18"]},{"id":"13_18","q":["13_18","14_18","14_19","13_19","13_18"]},{"id":"14_18","q":["14_18","15_18","15_19","14_19","14_18"]},{"id":"15_18","q":["15_18","16_18","16_19","15_19","15_18"]},{"id":"16_18","q":["16_18","17_18","17_19","16_19","16_18"]},{"id":"17_18","q":["17_18","18_18","18_19","17_19","17_18"]},{"id":"18_18","q":["18_18","19_18","19_19","18_19","18_18"]},{"id":"19_18","q":["19_18","20_18","20_19","19_19","19_18"]},
{"id":"0_17","q":["0_17","1_17","1_18","0_18","0_17"]},{"id":"1_17","q":["1_17","2_17","2_18","1_18","1_17"]},{"id":"2_17","q":["2_17","3_17","3_18","2_18","2_17"]},{"id":"3_17","q":["3_17","4_17","4_18","3_18","3_17"]},{"id":"4_17","q":["4_17","5_17","5_18","4_18","4_17"]},{"id":"5_17","q":["5_17","6_17","6_18","5_18","5_17"]},{"id":"6_17","q":["6_17","7_17","7_18","6_18","6_17"]},{"id":"7_17","q":["7_17","8_17","8_18","7_18","7_17"]},{"id":"8_17","q":["8_17","9_17","9_18","8_18","8_17"]},{"id":"9_17","q":["9_17","10_17","10_18","9_18","9_17"]},{"id":"10_17","q":["10_17","11_17","11_18","10_18","10_17"]},{"id":"11_17","q":["11_17","12_17","12_18","11_18","11_17"]},{"id":"12_17","q":["12_17","13_17","13_18","12_18","12_17"]},{"id":"13_17","q":["13_17","14_17","14_18","13_18","13_17"]},{"id":"14_17","q":["14_17","15_17","15_18","14_18","14_17"]},{"id":"15_17","q":["15_17","16_17","16_18","15_18","15_17"]},{"id":"16_17","q":["16_17","17_17","17_18","16_18","16_17"]},{"id":"17_17","q":["17_17","18_17","18_18","17_18","17_17"]},{"id":"18_17","q":["18_17","19_17","19_18","18_18","18_17"]},{"id":"19_17","q":["19_17","20_17","20_18","19_18","19_17"]},
{"id":"0_16","q":["0_16","1_16","1_17","0_17","0_16"]},{"id":"1_16","q":["1_16","2_16","2_17","1_17","1_16"]},{"id":"2_16","q":["2_16","3_16","3_17","2_17","2_16"]},{"id":"3_16","q":["3_16","4_16","4_17","3_17","3_16"]},{"id":"4_16","q":["4_16","5_16","5_17","4_17","4_16"]},{"id":"5_16","q":["5_16","6_16","6_17","5_17","5_16"]},{"id":"6_16","q":["6_16","7_16","7_17","6_17","6_16"]},{"id":"7_16","q":["7_16","8_16","8_17","7_17","7_16"]},{"id":"8_16","q":["8_16","9_16","9_17","8_17","8_16"]},{"id":"9_16","q":["9_16","10_16","10_17","9_17","9_16"]},{"id":"10_16","q":["10_16","11_16","11_17","10_17","10_16"]},{"id":"11_16","q":["11_16","12_16","12_17","11_17","11_16"]},{"id":"12_16","q":["12_16","13_16","13_17","12_17","12_16"]},{"id":"13_16","q":["13_16","14_16","14_17","13_17","13_16"]},{"id":"14_16","q":["14_16","15_16","15_17","14_17","14_16"]},{"id":"15_16","q":["15_16","16_16","16_17","15_17","15_16"]},{"id":"16_16","q":["16_16","17_16","17_17","16_17","16_16"]},{"id":"17_16","q":["17_16","18_16","18_17","17_17","17_16"]},{"id":"18_16","q":["18_16","19_16","19_17","18_17","18_16"]},{"id":"19_16","q":["19_16","20_16","20_17","19_17","19_16"]},
{"id":"0_15","q":["0_15","1_15","1_16","0_16","0_15"]},{"id":"1_15","q":["1_15","2_15","2_16","1_16","1_15"]},{"id":"2_15","q":["2_15","3_15","3_16","2_16","2_15"]},{"id":"3_15","q":["3_15","4_15","4_16","3_16","3_15"]},{"id":"4_15","q":["4_15","5_15","5_16","4_16","4_15"]},{"id":"5_15","q":["5_15","6_15","6_16","5_16","5_15"]},{"id":"6_15","q":["6_15","7_15","7_16","6_16","6_15"]},{"id":"7_15","q":["7_15","8_15","8_16","7_16","7_15"]},{"id":"8_15","q":["8_15","9_15","9_16","8_16","8_15"]},{"id":"9_15","q":["9_15","10_15","10_16","9_16","9_15"]},{"id":"10_15","q":["10_15","11_15","11_16","10_16","10_15"]},{"id":"11_15","q":["11_15","12_15","12_16","11_16","11_15"]},{"id":"12_15","q":["12_15","13_15","13_16","12_16","12_15"]},{"id":"13_15","q":["13_15","14_15","14_16","13_16","13_15"]},{"id":"14_15","q":["14_15","15_15","15_16","14_16","14_15"]},{"id":"15_15","q":["15_15","16_15","16_16","15_16","15_15"]},{"id":"16_15","q":["16_15","17_15","17_16","16_16","16_15"]},{"id":"17_15","q":["17_15","18_15","18_16","17_16","17_15"]},{"id":"18_15","q":["18_15","19_15","19_16","18_16","18_15"]},{"id":"19_15","q":["19_15","20_15","20_16","19_16","19_15"]},
{"id":"0_14","q":["0_14","1_14","1_15","0_15","0_14"]},{"id":"1_14","q":["1_14","2_14","2_15","1_15","1_14"]},{"id":"2_14","q":["2_14","3_14","3_15","2_15","2_14"]},{"id":"3_14","q":["3_14","4_14","4_15","3_15","3_14"]},{"id":"4_14","q":["4_14","5_14","5_15","4_15","4_14"]},{"id":"5_14","q":["5_14","6_14","6_15","5_15","5_14"]},{"id":"6_14","q":["6_14","7_14","7_15","6_15","6_14"]},{"id":"7_14","q":["7_14","8_14","8_15","7_15","7_14"]},{"id":"8_14","q":["8_14","9_14","9_15","8_15","8_14"]},{"id":"9_14","q":["9_14","10_14","10_15","9_15","9_14"]},{"id":"10_14","q":["10_14","11_14","11_15","10_15","10_14"]},{"id":"11_14","q":["11_14","12_14","12_15","11_15","11_14"]},{"id":"12_14","q":["12_14","13_14","13_15","12_15","12_14"]},{"id":"13_14","q":["13_14","14_14","14_15","13_15","13_14"]},{"id":"14_14","q":["14_14","15_14","15_15","14_15","14_14"]},{"id":"15_14","q":["15_14","16_14","16_15","15_15","15_14"]},{"id":"16_14","q":["16_14","17_14","17_15","16_15","16_14"]},{"id":"17_14","q":["17_14","18_14","18_15","17_15","17_14"]},{"id":"18_14","q":["18_14","19_14","19_15","18_15","18_14"]},{"id":"19_14","q":["19_14","20_14","20_15","19_15","19_14"]},
{"id":"0_13","q":["0_13","1_13","1_14","0_14","0_13"]},{"id":"1_13","q":["1_13","2_13","2_14","1_14","1_13"]},{"id":"2_13","q":["2_13","3_13","3_14","2_14","2_13"]},{"id":"3_13","q":["3_13","4_13","4_14","3_14","3_13"]},{"id":"4_13","q":["4_13","5_13","5_14","4_14","4_13"]},{"id":"5_13","q":["5_13","6_13","6_14","5_14","5_13"]},{"id":"6_13","q":["6_13","7_13","7_14","6_14","6_13"]},{"id":"7_13","q":["7_13","8_13","8_14","7_14","7_13"]},{"id":"8_13","q":["8_13","9_13","9_14","8_14","8_13"]},{"id":"9_13","q":["9_13","10_13","10_14","9_14","9_13"]},{"id":"10_13","q":["10_13","11_13","11_14","10_14","10_13"]},{"id":"11_13","q":["11_13","12_13","12_14","11_14","11_13"]},{"id":"12_13","q":["12_13","13_13","13_14","12_14","12_13"]},{"id":"13_13","q":["13_13","14_13","14_14","13_14","13_13"]},{"id":"14_13","q":["14_13","15_13","15_14","14_14","14_13"]},{"id":"15_13","q":["15_13","16_13","16_14","15_14","15_13"]},{"id":"16_13","q":["16_13","17_13","17_14","16_14","16_13"]},{"id":"17_13","q":["17_13","18_13","18_14","17_14","17_13"]},{"id":"18_13","q":["18_13","19_13","19_14","18_14","18_13"]},{"id":"19_13","q":["19_13","20_13","20_14","19_14","19_13"]},
{"id":"0_12","q":["0_12","1_12","1_13","0_13","0_12"]},{"id":"1_12","q":["1_12","2_12","2_13","1_13","1_12"]},{"id":"2_12","q":["2_12","3_12","3_13","2_13","2_12"]},{"id":"3_12","q":["3_12","4_12","4_13","3_13","3_12"]},{"id":"4_12","q":["4_12","5_12","5_13","4_13","4_12"]},{"id":"5_12","q":["5_12","6_12","6_13","5_13","5_12"]},{"id":"6_12","q":["6_12","7_12","7_13","6_13","6_12"]},{"id":"7_12","q":["7_12","8_12","8_13","7_13","7_12"]},{"id":"8_12","q":["8_12","9_12","9_13","8_13","8_12"]},{"id":"9_12","q":["9_12","10_12","10_13","9_13","9_12"]},{"id":"10_12","q":["10_12","11_12","11_13","10_13","10_12"]},{"id":"11_12","q":["11_12","12_12","12_13","11_13","11_12"]},{"id":"12_12","q":["12_12","13_12","13_13","12_13","12_12"]},{"id":"13_12","q":["13_12","14_12","14_13","13_13","13_12"]},{"id":"14_12","q":["14_12","15_12","15_13","14_13","14_12"]},{"id":"15_12","q":["15_12","16_12","16_13","15_13","15_12"]},{"id":"16_12","q":["16_12","17_12","17_13","16_13","16_12"]},{"id":"17_12","q":["17_12","18_12","18_13","17_13","17_12"]},{"id":"18_12","q":["18_12","19_12","19_13","18_13","18_12"]},{"id":"19_12","q":["19_12","20_12","20_13","19_13","19_12"]},
{"id":"0_11","q":["0_11","1_11","1_12","0_12","0_11"]},{"id":"1_11","q":["1_11","2_11","2_12","1_12","1_11"]},{"id":"2_11","q":["2_11","3_11","3_12","2_12","2_11"]},{"id":"3_11","q":["3_11","4_11","4_12","3_12","3_11"]},{"id":"4_11","q":["4_11","5_11","5_12","4_12","4_11"]},{"id":"5_11","q":["5_11","6_11","6_12","5_12","5_11"]},{"id":"6_11","q":["6_11","7_11","7_12","6_12","6_11"]},{"id":"7_11","q":["7_11","8_11","8_12","7_12","7_11"]},{"id":"8_11","q":["8_11","9_11","9_12","8_12","8_11"]},{"id":"9_11","q":["9_11","10_11","10_12","9_12","9_11"]},{"id":"10_11","q":["10_11","11_11","11_12","10_12","10_11"]},{"id":"11_11","q":["11_11","12_11","12_12","11_12","11_11"]},{"id":"12_11","q":["12_11","13_11","13_12","12_12","12_11"]},{"id":"13_11","q":["13_11","14_11","14_12","13_12","13_11"]},{"id":"14_11","q":["14_11","15_11","15_12","14_12","14_11"]},{"id":"15_11","q":["15_11","16_11","16_12","15_12","15_11"]},{"id":"16_11","q":["16_11","17_11","17_12","16_12","16_11"]},{"id":"17_11","q":["17_11","18_11","18_12","17_12","17_11"]},{"id":"18_11","q":["18_11","19_11","19_12","18_12","18_11"]},{"id":"19_11","q":["19_11","20_11","20_12","19_12","19_11"]},
{"id":"0_10","q":["0_10","1_10","1_11","0_11","0_10"]},{"id":"1_10","q":["1_10","2_10","2_11","1_11","1_10"]},{"id":"2_10","q":["2_10","3_10","3_11","2_11","2_10"]},{"id":"3_10","q":["3_10","4_10","4_11","3_11","3_10"]},{"id":"4_10","q":["4_10","5_10","5_11","4_11","4_10"]},{"id":"5_10","q":["5_10","6_10","6_11","5_11","5_10"]},{"id":"6_10","q":["6_10","7_10","7_11","6_11","6_10"]},{"id":"7_10","q":["7_10","8_10","8_11","7_11","7_10"]},{"id":"8_10","q":["8_10","9_10","9_11","8_11","8_10"]},{"id":"9_10","q":["9_10","10_10","10_11","9_11","9_10"]},{"id":"10_10","q":["10_10","11_10","11_11","10_11","10_10"]},{"id":"11_10","q":["11_10","12_10","12_11","11_11","11_10"]},{"id":"12_10","q":["12_10","13_10","13_11","12_11","12_10"]},{"id":"13_10","q":["13_10","14_10","14_11","13_11","13_10"]},{"id":"14_10","q":["14_10","15_10","15_11","14_11","14_10"]},{"id":"15_10","q":["15_10","16_10","16_11","15_11","15_10"]},{"id":"16_10","q":["16_10","17_10","17_11","16_11","16_10"]},{"id":"17_10","q":["17_10","18_10","18_11","17_11","17_10"]},{"id":"18_10","q":["18_10","19_10","19_11","18_11","18_10"]},{"id":"19_10","q":["19_10","20_10","20_11","19_11","19_10"]},
{"id":"0_9","q":["0_9","1_9","1_10","0_10","0_9"]},{"id":"1_9","q":["1_9","2_9","2_10","1_10","1_9"]},{"id":"2_9","q":["2_9","3_9","3_10","2_10","2_9"]},{"id":"3_9","q":["3_9","4_9","4_10","3_10","3_9"]},{"id":"4_9","q":["4_9","5_9","5_10","4_10","4_9"]},{"id":"5_9","q":["5_9","6_9","6_10","5_10","5_9"]},{"id":"6_9","q":["6_9","7_9","7_10","6_10","6_9"]},{"id":"7_9","q":["7_9","8_9","8_10","7_10","7_9"]},{"id":"8_9","q":["8_9","9_9","9_10","8_10","8_9"]},{"id":"9_9","q":["9_9","10_9","10_10","9_10","9_9"]},{"id":"10_9","q":["10_9","11_9","11_10","10_10","10_9"]},{"id":"11_9","q":["11_9","12_9","12_10","11_10","11_9"]},{"id":"12_9","q":["12_9","13_9","13_10","12_10","12_9"]},{"id":"13_9","q":["13_9","14_9","14_10","13_10","13_9"]},{"id":"14_9","q":["14_9","15_9","15_10","14_10","14_9"]},{"id":"15_9","q":["15_9","16_9","16_10","15_10","15_9"]},{"id":"16_9","q":["16_9","17_9","17_10","16_10","16_9"]},{"id":"17_9","q":["17_9","18_9","18_10","17_10","17_9"]},{"id":"18_9","q":["18_9","19_9","19_10","18_10","18_9"]},{"id":"19_9","q":["19_9","20_9","20_10","19_10","19_9"]},
{"id":"0_8","q":["0_8","1_8","1_9","0_9","0_8"]},{"id":"1_8","q":["1_8","2_8","2_9","1_9","1_8"]},{"id":"2_8","q":["2_8","3_8","3_9","2_9","2_8"]},{"id":"3_8","q":["3_8","4_8","4_9","3_9","3_8"]},{"id":"4_8","q":["4_8","5_8","5_9","4_9","4_8"]},{"id":"5_8","q":["5_8","6_8","6_9","5_9","5_8"]},{"id":"6_8","q":["6_8","7_8","7_9","6_9","6_8"]},{"id":"7_8","q":["7_8","8_8","8_9","7_9","7_8"]},{"id":"8_8","q":["8_8","9_8","9_9","8_9","8_8"]},{"id":"9_8","q":["9_8","10_8","10_9","9_9","9_8"]},{"id":"10_8","q":["10_8","11_8","11_9","10_9","10_8"]},{"id":"11_8","q":["11_8","12_8","12_9","11_9","11_8"]},{"id":"12_8","q":["12_8","13_8","13_9","12_9","12_8"]},{"id":"13_8","q":["13_8","14_8","14_9","13_9","13_8"]},{"id":"14_8","q":["14_8","15_8","15_9","14_9","14_8"]},{"id":"15_8","q":["15_8","16_8","16_9","15_9","15_8"]},{"id":"16_8","q":["16_8","17_8","17_9","16_9","16_8"]},{"id":"17_8","q":["17_8","18_8","18_9","17_9","17_8"]},{"id":"18_8","q":["18_8","19_8","19_9","18_9","18_8"]},{"id":"19_8","q":["19_8","20_8","20_9","19_9","19_8"]},
{"id":"0_7","q":["0_7","1_7","1_8","0_8","0_7"]},{"id":"1_7","q":["1_7","2_7","2_8","1_8","1_7"]},{"id":"2_7","q":["2_7","3_7","3_8","2_8","2_7"]},{"id":"3_7","q":["3_7","4_7","4_8","3_8","3_7"]},{"id":"4_7","q":["4_7","5_7","5_8","4_8","4_7"]},{"id":"5_7","q":["5_7","6_7","6_8","5_8","5_7"]},{"id":"6_7","q":["6_7","7_7","7_8","6_8","6_7"]},{"id":"7_7","q":["7_7","8_7","8_8","7_8","7_7"]},{"id":"8_7","q":["8_7","9_7","9_8","8_8","8_7"]},{"id":"9_7","q":["9_7","10_7","10_8","9_8","9_7"]},{"id":"10_7","q":["10_7","11_7","11_8","10_8","10_7"]},{"id":"11_7","q":["11_7","12_7","12_8","11_8","11_7"]},{"id":"12_7","q":["12_7","13_7","13_8","12_8","12_7"]},{"id":"13_7","q":["13_7","14_7","14_8","13_8","13_7"]},{"id":"14_7","q":["14_7","15_7","15_8","14_8","14_7"]},{"id":"15_7","q":["15_7","16_7","16_8","15_8","15_7"]},{"id":"16_7","q":["16_7","17_7","17_8","16_8","16_7"]},{"id":"17_7","q":["17_7","18_7","18_8","17_8","17_7"]},{"id":"18_7","q":["18_7","19_7","19_8","18_8","18_7"]},{"id":"19_7","q":["19_7","20_7","20_8","19_8","19_7"]},
{"id":"0_6","q":["0_6","1_6","1_7","0_7","0_6"]},{"id":"1_6","q":["1_6","2_6","2_7","1_7","1_6"]},{"id":"2_6","q":["2_6","3_6","3_7","2_7","2_6"]},{"id":"3_6","q":["3_6","4_6","4_7","3_7","3_6"]},{"id":"4_6","q":["4_6","5_6","5_7","4_7","4_6"]},{"id":"5_6","q":["5_6","6_6","6_7","5_7","5_6"]},{"id":"6_6","q":["6_6","7_6","7_7","6_7","6_6"]},{"id":"7_6","q":["7_6","8_6","8_7","7_7","7_6"]},{"id":"8_6","q":["8_6","9_6","9_7","8_7","8_6"]},{"id":"9_6","q":["9_6","10_6","10_7","9_7","9_6"]},{"id":"10_6","q":["10_6","11_6","11_7","10_7","10_6"]},{"id":"11_6","q":["11_6","12_6","12_7","11_7","11_6"]},{"id":"12_6","q":["12_6","13_6","13_7","12_7","12_6"]},{"id":"13_6","q":["13_6","14_6","14_7","13_7","13_6"]},{"id":"14_6","q":["14_6","15_6","15_7","14_7","14_6"]},{"id":"15_6","q":["15_6","16_6","16_7","15_7","15_6"]},{"id":"16_6","q":["16_6","17_6","17_7","16_7","16_6"]},{"id":"17_6","q":["17_6","18_6","18_7","17_7","17_6"]},{"id":"18_6","q":["18_6","19_6","19_7","18_7","18_6"]},{"id":"19_6","q":["19_6","20_6","20_7","19_7","19_6"]},
{"id":"0_5","q":["0_5","1_5","1_6","0_6","0_5"]},{"id":"1_5","q":["1_5","2_5","2_6","1_6","1_5"]},{"id":"2_5","q":["2_5","3_5","3_6","2_6","2_5"]},{"id":"3_5","q":["3_5","4_5","4_6","3_6","3_5"]},{"id":"4_5","q":["4_5","5_5","5_6","4_6","4_5"]},{"id":"5_5","q":["5_5","6_5","6_6","5_6","5_5"]},{"id":"6_5","q":["6_5","7_5","7_6","6_6","6_5"]},{"id":"7_5","q":["7_5","8_5","8_6","7_6","7_5"]},{"id":"8_5","q":["8_5","9_5","9_6","8_6","8_5"]},{"id":"9_5","q":["9_5","10_5","10_6","9_6","9_5"]},{"id":"10_5","q":["10_5","11_5","11_6","10_6","10_5"]},{"id":"11_5","q":["11_5","12_5","12_6","11_6","11_5"]},{"id":"12_5","q":["12_5","13_5","13_6","12_6","12_5"]},{"id":"13_5","q":["13_5","14_5","14_6","13_6","13_5"]},{"id":"14_5","q":["14_5","15_5","15_6","14_6","14_5"]},{"id":"15_5","q":["15_5","16_5","16_6","15_6","15_5"]},{"id":"16_5","q":["16_5","17_5","17_6","16_6","16_5"]},{"id":"17_5","q":["17_5","18_5","18_6","17_6","17_5"]},{"id":"18_5","q":["18_5","19_5","19_6","18_6","18_5"]},{"id":"19_5","q":["19_5","20_5","20_6","19_6","19_5"]},
{"id":"0_4","q":["0_4","1_4","1_5","0_5","0_4"]},{"id":"1_4","q":["1_4","2_4","2_5","1_5","1_4"]},{"id":"2_4","q":["2_4","3_4","3_5","2_5","2_4"]},{"id":"3_4","q":["3_4","4_4","4_5","3_5","3_4"]},{"id":"4_4","q":["4_4","5_4","5_5","4_5","4_4"]},{"id":"5_4","q":["5_4","6_4","6_5","5_5","5_4"]},{"id":"6_4","q":["6_4","7_4","7_5","6_5","6_4"]},{"id":"7_4","q":["7_4","8_4","8_5","7_5","7_4"]},{"id":"8_4","q":["8_4","9_4","9_5","8_5","8_4"]},{"id":"9_4","q":["9_4","10_4","10_5","9_5","9_4"]},{"id":"10_4","q":["10_4","11_4","11_5","10_5","10_4"]},{"id":"11_4","q":["11_4","12_4","12_5","11_5","11_4"]},{"id":"12_4","q":["12_4","13_4","13_5","12_5","12_4"]},{"id":"13_4","q":["13_4","14_4","14_5","13_5","13_4"]},{"id":"14_4","q":["14_4","15_4","15_5","14_5","14_4"]},{"id":"15_4","q":["15_4","16_4","16_5","15_5","15_4"]},{"id":"16_4","q":["16_4","17_4","17_5","16_5","16_4"]},{"id":"17_4","q":["17_4","18_4","18_5","17_5","17_4"]},{"id":"18_4","q":["18_4","19_4","19_5","18_5","18_4"]},{"id":"19_4","q":["19_4","20_4","20_5","19_5","19_4"]},
{"id":"0_3","q":["0_3","1_3","1_4","0_4","0_3"]},{"id":"1_3","q":["1_3","2_3","2_4","1_4","1_3"]},{"id":"2_3","q":["2_3","3_3","3_4","2_4","2_3"]},{"id":"3_3","q":["3_3","4_3","4_4","3_4","3_3"]},{"id":"4_3","q":["4_3","5_3","5_4","4_4","4_3"]},{"id":"5_3","q":["5_3","6_3","6_4","5_4","5_3"]},{"id":"6_3","q":["6_3","7_3","7_4","6_4","6_3"]},{"id":"7_3","q":["7_3","8_3","8_4","7_4","7_3"]},{"id":"8_3","q":["8_3","9_3","9_4","8_4","8_3"]},{"id":"9_3","q":["9_3","10_3","10_4","9_4","9_3"]},{"id":"10_3","q":["10_3","11_3","11_4","10_4","10_3"]},{"id":"11_3","q":["11_3","12_3","12_4","11_4","11_3"]},{"id":"12_3","q":["12_3","13_3","13_4","12_4","12_3"]},{"id":"13_3","q":["13_3","14_3","14_4","13_4","13_3"]},{"id":"14_3","q":["14_3","15_3","15_4","14_4","14_3"]},{"id":"15_3","q":["15_3","16_3","16_4","15_4","15_3"]},{"id":"16_3","q":["16_3","17_3","17_4","16_4","16_3"]},{"id":"17_3","q":["17_3","18_3","18_4","17_4","17_3"]},{"id":"18_3","q":["18_3","19_3","19_4","18_4","18_3"]},{"id":"19_3","q":["19_3","20_3","20_4","19_4","19_3"]},
{"id":"0_2","q":["0_2","1_2","1_3","0_3","0_2"]},{"id":"1_2","q":["1_2","2_2","2_3","1_3","1_2"]},{"id":"2_2","q":["2_2","3_2","3_3","2_3","2_2"]},{"id":"3_2","q":["3_2","4_2","4_3","3_3","3_2"]},{"id":"4_2","q":["4_2","5_2","5_3","4_3","4_2"]},{"id":"5_2","q":["5_2","6_2","6_3","5_3","5_2"]},{"id":"6_2","q":["6_2","7_2","7_3","6_3","6_2"]},{"id":"7_2","q":["7_2","8_2","8_3","7_3","7_2"]},{"id":"8_2","q":["8_2","9_2","9_3","8_3","8_2"]},{"id":"9_2","q":["9_2","10_2","10_3","9_3","9_2"]},{"id":"10_2","q":["10_2","11_2","11_3","10_3","10_2"]},{"id":"11_2","q":["11_2","12_2","12_3","11_3","11_2"]},{"id":"12_2","q":["12_2","13_2","13_3","12_3","12_2"]},{"id":"13_2","q":["13_2","14_2","14_3","13_3","13_2"]},{"id":"14_2","q":["14_2","15_2","15_3","14_3","14_2"]},{"id":"15_2","q":["15_2","16_2","16_3","15_3","15_2"]},{"id":"16_2","q":["16_2","17_2","17_3","16_3","16_2"]},{"id":"17_2","q":["17_2","18_2","18_3","17_3","17_2"]},{"id":"18_2","q":["18_2","19_2","19_3","18_3","18_2"]},{"id":"19_2","q":["19_2","20_2","20_3","19_3","19_2"]},
{"id":"0_1","q":["0_1","1_1","1_2","0_2","0_1"]},{"id":"1_1","q":["1_1","2_1","2_2","1_2","1_1"]},{"id":"2_1","q":["2_1","3_1","3_2","2_2","2_1"]},{"id":"3_1","q":["3_1","4_1","4_2","3_2","3_1"]},{"id":"4_1","q":["4_1","5_1","5_2","4_2","4_1"]},{"id":"5_1","q":["5_1","6_1","6_2","5_2","5_1"]},{"id":"6_1","q":["6_1","7_1","7_2","6_2","6_1"]},{"id":"7_1","q":["7_1","8_1","8_2","7_2","7_1"]},{"id":"8_1","q":["8_1","9_1","9_2","8_2","8_1"]},{"id":"9_1","q":["9_1","10_1","10_2","9_2","9_1"]},{"id":"10_1","q":["10_1","11_1","11_2","10_2","10_1"]},{"id":"11_1","q":["11_1","12_1","12_2","11_2","11_1"]},{"id":"12_1","q":["12_1","13_1","13_2","12_2","12_1"]},{"id":"13_1","q":["13_1","14_1","14_2","13_2","13_1"]},{"id":"14_1","q":["14_1","15_1","15_2","14_2","14_1"]},{"id":"15_1","q":["15_1","16_1","16_2","15_2","15_1"]},{"id":"16_1","q":["16_1","17_1","17_2","16_2","16_1"]},{"id":"17_1","q":["17_1","18_1","18_2","17_2","17_1"]},{"id":"18_1","q":["18_1","19_1","19_2","18_2","18_1"]},{"id":"19_1","q":["19_1","20_1","20_2","19_2","19_1"]},
{"id":"0_0","q":["0_0","1_0","1_1","0_1","0_0"]},{"id":"1_0","q":["1_0","2_0","2_1","1_1","1_0"]},{"id":"2_0","q":["2_0","3_0","3_1","2_1","2_0"]},{"id":"3_0","q":["3_0","4_0","4_1","3_1","3_0"]},{"id":"4_0","q":["4_0","5_0","5_1","4_1","4_0"]},{"id":"5_0","q":["5_0","6_0","6_1","5_1","5_0"]},{"id":"6_0","q":["6_0","7_0","7_1","6_1","6_0"]},{"id":"7_0","q":["7_0","8_0","8_1","7_1","7_0"]},{"id":"8_0","q":["8_0","9_0","9_1","8_1","8_0"]},{"id":"9_0","q":["9_0","10_0","10_1","9_1","9_0"]},{"id":"10_0","q":["10_0","11_0","11_1","10_1","10_0"]},{"id":"11_0","q":["11_0","12_0","12_1","11_1","11_0"]},{"id":"12_0","q":["12_0","13_0","13_1","12_1","12_0"]},{"id":"13_0","q":["13_0","14_0","14_1","13_1","13_0"]},{"id":"14_0","q":["14_0","15_0","15_1","14_1","14_0"]},{"id":"15_0","q":["15_0","16_0","16_1","15_1","15_0"]},{"id":"16_0","q":["16_0","17_0","17_1","16_1","16_0"]},{"id":"17_0","q":["17_0","18_0","18_1","17_1","17_0"]},{"id":"18_0","q":["18_0","19_0","19_1","18_1","18_0"]},{"id":"19_0","q":["19_0","20_0","20_1","19_1","19_0"]}
],
"boxA":[{"e":"p1","n":1.35,"s":19,"z":400},{"e":"p1","n":1.35,"s":51,"z":400},{"e":"p1","n":0.65,"s":51,"z":400},{"e":"p1","n":0.65,"s":51,"z":0},{"e":"p1","n":1.35,"s":51,"z":0},{"e":"p1","n":1.35,"s":19,"z":0},{"e":"p2","n":1.35,"s":51,"z":0},{"e":"p2","n":1.35,"s":51,"z":400},{"e":"p3","n":0.65,"s":19,"z":0},{"e":"p3","n":0.65,"s":51,"z":0}],
"boxB":[{"e":"p1","n":1.35,"s":19,"z":7},{"e":"p1","n":1.35,"s":51,"z":7},{"e":"p1","n":0.65,"s":51,"z":7},{"e":"p1","n":0.65,"s":51,"z":0},{"e":"p1","n":1.35,"s":51,"z":0},{"e":"p1","n":1.35,"s":19,"z":0},{"e":"p2","n":1.35,"s":51,"z":0},{"e":"p2","n":1.35,"s":51,"z":7},{"e":"p3","n":0.65,"s":19,"z":0},{"e":"p3","n":0.65,"s":51,"z":0}],
"boxC":[{"e":"p1","n":1.35,"s":19,"z":100},{"e":"p1","n":1.35,"s":51,"z":100},{"e":"p1","n":0.65,"s":51,"z":100},{"e":"p1","n":0.65,"s":51,"z":60},{"e":"p1","n":1.35,"s":51,"z":60},{"e":"p1","n":1.35,"s":19,"z":60},{"e":"p2","n":1.35,"s":51,"z":60},{"e":"p2","n":1.35,"s":51,"z":100},{"e":"p3","n":0.65,"s":19,"z":60},{"e":"p3","n":0.65,"s":51,"z":60}],
"speeds":[{"s":20},{"s":25},{"s":30},{"s":35},{"s":40},{"s":45},{"s":50}],
"stitle":[{"s":35,"t":"Extrusion speeds (mm/s)"}],
"legA":[{"lab":"0"},{"lab":"50"},{"lab":"100"},{"lab":"150"},{"lab":"200"},{"lab":"250"},{"lab":"300"},{"lab":"350"},{"lab":"400"}],
"legB":[{"lab":"0"},{"lab":"1"},{"lab":"2"},{"lab":"3"},{"lab":"4"},{"lab":"5"},{"lab":"6"},{"lab":"7"}],
"legC":[{"lab":"60"},{"lab":"65"},{"lab":"70"},{"lab":"75"},{"lab":"80"},{"lab":"85"},{"lab":"90"},{"lab":"95"},{"lab":"100"}]
},
"layer":[
{"data":{"name":"boxA"},"transform":[{"filter":"datum.e != 'p3'"}],"mark":{"type":"line","stroke":"#9a9a9a","strokeWidth":2},
"encoding":{"x":{"field":"n","type":"ordinal","scale":{"type":"point","domain":[1.35,0.65],"range":[205,1005],"padding":0},"axis":null},
"xOffset":{"field":"s","type":"quantitative","scale":{"domain":[19,51],"range":[0,330],"nice":false,"zero":false}},
"y":{"field":"s","type":"ordinal","scale":{"type":"point","domain":[19,51],"range":[1152,1032],"padding":0},"axis":null},
"yOffset":{"field":"z","type":"quantitative","scale":{"domain":[0,400],"range":[0,-1000],"nice":false,"zero":false}},
"detail":{"field":"e"},"order":{"value":null}}},
{"data":{"name":"boxA"},"transform":[{"filter":"datum.e == 'p3'"}],"mark":{"type":"line","stroke":"#333","strokeWidth":2},
"encoding":{"x":{"field":"n","type":"ordinal","scale":{"type":"point","domain":[1.35,0.65],"range":[205,1005],"padding":0},"axis":null},
"xOffset":{"field":"s","type":"quantitative","scale":{"domain":[19,51],"range":[0,330],"nice":false,"zero":false}},
"y":{"field":"s","type":"ordinal","scale":{"type":"point","domain":[19,51],"range":[1152,1032],"padding":0},"axis":null},
"yOffset":{"field":"z","type":"quantitative","scale":{"domain":[0,400],"range":[0,-1000],"nice":false,"zero":false}},
"detail":{"field":"e"},"order":{"value":null}}},
{"data":{"name":"cells"},"transform":[{"flatten":["q"]},{"lookup":"q","from":{"data":{"name":"grid"},"key":"p","fields":["n","s","va"]}},{"joinaggregate":[{"op":"mean","field":"va","as":"m"}],"groupby":["id"]}],
"mark":{"type":"line","stroke":"#111","strokeWidth":1.7,"strokeJoin":"round"},
"encoding":{"x":{"field":"n","type":"ordinal","scale":{"type":"point","domain":[1.35,1.315,1.28,1.245,1.21,1.175,1.14,1.105,1.07,1.035,1,0.965,0.93,0.895,0.86,0.825,0.79,0.755,0.72,0.685,0.65],"range":[205,1005],"padding":0},"axis":null},
"xOffset":{"field":"s","type":"quantitative","scale":{"domain":[19,51],"range":[0,330],"nice":false,"zero":false}},
"y":{"field":"s","type":"ordinal","scale":{"type":"point","domain":[19,20.6,22.2,23.8,25.4,27,28.6,30.2,31.8,33.4,35,36.6,38.2,39.8,41.4,43,44.6,46.2,47.8,49.4,51],"range":[1152,1032],"padding":0},"axis":null},
"yOffset":{"field":"va","type":"quantitative","scale":{"domain":[0,400],"range":[0,-1000],"nice":false,"zero":false}},
"fill":{"field":"m","type":"quantitative","scale":{"type":"linear","domain":[0,50,100,150,200,250,300,350,400],"range":["#1e1e78","#0a0a9c","#1414ff","#0a4ea0","#00b400","#66e000","#ffee00","#ffa000","#ff4800"],"interpolate":"rgb"},"legend":null},
"detail":{"field":"id"},"order":{"value":null}}},
{"data":{"name":"grid"},"mark":{"type":"point","opacity":0},
"encoding":{"x":{"field":"n","type":"quantitative","scale":{"domain":[1.35,0.65],"range":[205,1005],"nice":false,"zero":false},
"axis":{"orient":"bottom","offset":-1663,"values":[1.3,1.2,1.1,1.0,0.9,0.8,0.7],"format":".1f","title":"Nozzle diameter (mm)","titleAngle":7,"titlePadding":78}},
"y":{"field":"va","type":"quantitative","scale":{"domain":[0,400],"range":[1152,152],"nice":false,"zero":false},
"axis":{"orient":"left","offset":-205,"values":[0,50,100,150,200,250,300,350,400],"format":"d","title":"Apparent Viscosity (Pa.s)","titlePadding":38,"titleY":600}}}},
{"data":{"name":"speeds"},"mark":{"type":"point","shape":"M0,0H1","size":1100,"stroke":"#333","strokeWidth":2,"opacity":1},
"encoding":{"x":{"field":"s","type":"ordinal","scale":{"type":"point","domain":[20,25,30,35,40,45,50],"range":[1015.3,1324.7],"padding":0},"axis":null},
"y":{"field":"s","type":"ordinal","scale":{"type":"point","domain":[20,25,30,35,40,45,50],"range":[1148.25,1035.75],"padding":0},"axis":null}}},
{"data":{"name":"speeds"},"mark":{"type":"text","fontSize":42,"dx":48,"dy":8,"align":"center","baseline":"middle","color":"#222"},
"encoding":{"x":{"field":"s","type":"ordinal","scale":{"type":"point","domain":[20,25,30,35,40,45,50],"range":[1015.3,1324.7],"padding":0},"axis":null},
"y":{"field":"s","type":"ordinal","scale":{"type":"point","domain":[20,25,30,35,40,45,50],"range":[1148.25,1035.75],"padding":0},"axis":null},
"text":{"field":"s","type":"quantitative"}}},
{"data":{"name":"stitle"},"mark":{"type":"text","fontSize":52,"dx":47,"dy":184,"angle":-33,"align":"center","baseline":"middle","color":"#222"},
"encoding":{"x":{"field":"s","type":"ordinal","scale":{"type":"point","domain":[20,25,30,35,40,45,50],"range":[1015.3,1324.7],"padding":0},"axis":null},
"y":{"field":"s","type":"ordinal","scale":{"type":"point","domain":[20,25,30,35,40,45,50],"range":[1148.25,1035.75],"padding":0},"axis":null},
"text":{"field":"t"}}},
{"data":{"name":"legA"},"mark":{"type":"square","size":20},
"encoding":{"x":{"datum":0.173,"type":"quantitative","scale":{"domain":[1.35,0.65],"range":[205,1005],"nice":false,"zero":false},"axis":null},
"y":{"datum":180.8,"type":"quantitative","scale":{"domain":[0,400],"range":[1152,152],"nice":false,"zero":false},"axis":null},
"color":{"field":"lab","type":"ordinal","scale":{"domain":["0","50","100","150","200","250","300","350","400"],"range":["#1e1e78","#0a0a9c","#1414ff","#0a4ea0","#00b400","#66e000","#ffee00","#ffa000","#ff4800"]},
"legend":{"orient":"none","legendX":1435,"legendY":489,"title":null,"symbolType":"M-1,-0.66H3.8V0.66H-1Z","symbolSize":1314,"labelOffset":69,"rowPadding":10.5}}}},
{"data":{"values":[{"t":"a"}]},"mark":{"type":"text","fontSize":46,"fontWeight":"bold","align":"center","baseline":"middle","color":"#111"},
"encoding":{"x":{"datum":1.5,"type":"quantitative","scale":{"domain":[1.35,0.65],"range":[205,1005],"nice":false,"zero":false},"axis":null},
"y":{"datum":447,"type":"quantitative","scale":{"domain":[0,400],"range":[1152,152],"nice":false,"zero":false},"axis":null},
"text":{"field":"t"}}},

{"data":{"name":"boxB"},"transform":[{"filter":"datum.e != 'p3'"}],"mark":{"type":"line","stroke":"#9a9a9a","strokeWidth":2},
"encoding":{"x":{"field":"n","type":"ordinal","scale":{"type":"point","domain":[1.35,0.65],"range":[2121,2921],"padding":0},"axis":null},
"xOffset":{"field":"s","type":"quantitative","scale":{"domain":[19,51],"range":[0,330],"nice":false,"zero":false}},
"y":{"field":"s","type":"ordinal","scale":{"type":"point","domain":[19,51],"range":[1140,1020],"padding":0},"axis":null},
"yOffset":{"field":"z","type":"quantitative","scale":{"domain":[0,7],"range":[0,-987],"nice":false,"zero":false}},
"detail":{"field":"e"},"order":{"value":null}}},
{"data":{"name":"boxB"},"transform":[{"filter":"datum.e == 'p3'"}],"mark":{"type":"line","stroke":"#333","strokeWidth":2},
"encoding":{"x":{"field":"n","type":"ordinal","scale":{"type":"point","domain":[1.35,0.65],"range":[2121,2921],"padding":0},"axis":null},
"xOffset":{"field":"s","type":"quantitative","scale":{"domain":[19,51],"range":[0,330],"nice":false,"zero":false}},
"y":{"field":"s","type":"ordinal","scale":{"type":"point","domain":[19,51],"range":[1140,1020],"padding":0},"axis":null},
"yOffset":{"field":"z","type":"quantitative","scale":{"domain":[0,7],"range":[0,-987],"nice":false,"zero":false}},
"detail":{"field":"e"},"order":{"value":null}}},
{"data":{"name":"cells"},"transform":[{"flatten":["q"]},{"lookup":"q","from":{"data":{"name":"grid"},"key":"p","fields":["n","s","vb"]}},{"joinaggregate":[{"op":"mean","field":"vb","as":"m"}],"groupby":["id"]}],
"mark":{"type":"line","stroke":"#111","strokeWidth":1.7,"strokeJoin":"round"},
"encoding":{"x":{"field":"n","type":"ordinal","scale":{"type":"point","domain":[1.35,1.315,1.28,1.245,1.21,1.175,1.14,1.105,1.07,1.035,1,0.965,0.93,0.895,0.86,0.825,0.79,0.755,0.72,0.685,0.65],"range":[2121,2921],"padding":0},"axis":null},
"xOffset":{"field":"s","type":"quantitative","scale":{"domain":[19,51],"range":[0,330],"nice":false,"zero":false}},
"y":{"field":"s","type":"ordinal","scale":{"type":"point","domain":[19,20.6,22.2,23.8,25.4,27,28.6,30.2,31.8,33.4,35,36.6,38.2,39.8,41.4,43,44.6,46.2,47.8,49.4,51],"range":[1140,1020],"padding":0},"axis":null},
"yOffset":{"field":"vb","type":"quantitative","scale":{"domain":[0,7],"range":[0,-987],"nice":false,"zero":false}},
"fill":{"field":"m","type":"quantitative","scale":{"type":"linear","domain":[0,1,2,3,4,5,6,7],"range":["#1e1e78","#0a0aa0","#1428ff","#007850","#00d800","#ffff00","#ffaa00","#ff5000"],"interpolate":"rgb"},"legend":null},
"detail":{"field":"id"},"order":{"value":null}}},
{"data":{"name":"grid"},"mark":{"type":"point","opacity":0},
"encoding":{"x":{"field":"n","type":"quantitative","scale":{"domain":[1.35,0.65],"range":[2121,2921],"nice":false,"zero":false},
"axis":{"orient":"bottom","offset":-1675,"values":[1.3,1.2,1.1,1.0,0.9,0.8,0.7],"format":".1f","title":"Nozzle diameter (mm)","titleAngle":7,"titlePadding":98}},
"y":{"field":"vb","type":"quantitative","scale":{"domain":[0,7],"range":[1140,153],"nice":false,"zero":false},
"axis":{"orient":"left","offset":-2121,"values":[0,1,2,3,4,5,6,7],"format":"d","title":"Hardness (N)","titlePadding":38}}}},
{"data":{"name":"speeds"},"mark":{"type":"point","shape":"M0,0H1","size":1100,"stroke":"#333","strokeWidth":2,"opacity":1},
"encoding":{"x":{"field":"s","type":"ordinal","scale":{"type":"point","domain":[20,25,30,35,40,45,50],"range":[2931.3,3240.7],"padding":0},"axis":null},
"y":{"field":"s","type":"ordinal","scale":{"type":"point","domain":[20,25,30,35,40,45,50],"range":[1136.25,1023.75],"padding":0},"axis":null}}},
{"data":{"name":"speeds"},"mark":{"type":"text","fontSize":42,"dx":48,"dy":8,"align":"center","baseline":"middle","color":"#222"},
"encoding":{"x":{"field":"s","type":"ordinal","scale":{"type":"point","domain":[20,25,30,35,40,45,50],"range":[2931.3,3240.7],"padding":0},"axis":null},
"y":{"field":"s","type":"ordinal","scale":{"type":"point","domain":[20,25,30,35,40,45,50],"range":[1136.25,1023.75],"padding":0},"axis":null},
"text":{"field":"s","type":"quantitative"}}},
{"data":{"name":"stitle"},"mark":{"type":"text","fontSize":52,"dx":72,"dy":182,"angle":-33,"align":"center","baseline":"middle","color":"#222"},
"encoding":{"x":{"field":"s","type":"ordinal","scale":{"type":"point","domain":[20,25,30,35,40,45,50],"range":[2931.3,3240.7],"padding":0},"axis":null},
"y":{"field":"s","type":"ordinal","scale":{"type":"point","domain":[20,25,30,35,40,45,50],"range":[1136.25,1023.75],"padding":0},"axis":null},
"text":{"field":"t"}}},
{"data":{"name":"legB"},"mark":{"type":"square","size":20},
"encoding":{"x":{"datum":0.231,"type":"quantitative","scale":{"domain":[1.35,0.65],"range":[2121,2921],"nice":false,"zero":false},"axis":null},
"y":{"datum":3.12,"type":"quantitative","scale":{"domain":[0,7],"range":[1140,153],"nice":false,"zero":false},"axis":null},
"color":{"field":"lab","type":"ordinal","scale":{"domain":["0","1","2","3","4","5","6","7"],"range":["#1e1e78","#0a0aa0","#1428ff","#007850","#00d800","#ffff00","#ffaa00","#ff5000"]},
"legend":{"orient":"none","legendX":3311,"legendY":479,"title":null,"symbolType":"M-1,-0.6H3.5V0.6H-1Z","symbolSize":1326,"labelOffset":67,"rowPadding":14}}}},
{"data":{"values":[{"t":"b"}]},"mark":{"type":"text","fontSize":46,"fontWeight":"bold","align":"center","baseline":"middle","color":"#111"},
"encoding":{"x":{"datum":1.469,"type":"quantitative","scale":{"domain":[1.35,0.65],"range":[2121,2921],"nice":false,"zero":false},"axis":null},
"y":{"datum":7.84,"type":"quantitative","scale":{"domain":[0,7],"range":[1140,153],"nice":false,"zero":false},"axis":null},
"text":{"field":"t"}}},

{"data":{"name":"boxC"},"transform":[{"filter":"datum.e != 'p3'"}],"mark":{"type":"line","stroke":"#9a9a9a","strokeWidth":2},
"encoding":{"x":{"field":"n","type":"ordinal","scale":{"type":"point","domain":[1.35,0.65],"range":[1333,2133],"padding":0},"axis":null},
"xOffset":{"field":"s","type":"quantitative","scale":{"domain":[19,51],"range":[0,330],"nice":false,"zero":false}},
"y":{"field":"s","type":"ordinal","scale":{"type":"point","domain":[19,51],"range":[2546,2426],"padding":0},"axis":null},
"yOffset":{"field":"z","type":"quantitative","scale":{"domain":[60,100],"range":[0,-1000],"nice":false,"zero":false}},
"detail":{"field":"e"},"order":{"value":null}}},
{"data":{"name":"boxC"},"transform":[{"filter":"datum.e == 'p3'"}],"mark":{"type":"line","stroke":"#333","strokeWidth":2},
"encoding":{"x":{"field":"n","type":"ordinal","scale":{"type":"point","domain":[1.35,0.65],"range":[1333,2133],"padding":0},"axis":null},
"xOffset":{"field":"s","type":"quantitative","scale":{"domain":[19,51],"range":[0,330],"nice":false,"zero":false}},
"y":{"field":"s","type":"ordinal","scale":{"type":"point","domain":[19,51],"range":[2546,2426],"padding":0},"axis":null},
"yOffset":{"field":"z","type":"quantitative","scale":{"domain":[60,100],"range":[0,-1000],"nice":false,"zero":false}},
"detail":{"field":"e"},"order":{"value":null}}},
{"data":{"name":"cells"},"transform":[{"flatten":["q"]},{"lookup":"q","from":{"data":{"name":"grid"},"key":"p","fields":["n","s","vc"]}},{"joinaggregate":[{"op":"mean","field":"vc","as":"m"}],"groupby":["id"]}],
"mark":{"type":"line","stroke":"#111","strokeWidth":1.7,"strokeJoin":"round"},
"encoding":{"x":{"field":"n","type":"ordinal","scale":{"type":"point","domain":[1.35,1.315,1.28,1.245,1.21,1.175,1.14,1.105,1.07,1.035,1,0.965,0.93,0.895,0.86,0.825,0.79,0.755,0.72,0.685,0.65],"range":[1333,2133],"padding":0},"axis":null},
"xOffset":{"field":"s","type":"quantitative","scale":{"domain":[19,51],"range":[0,330],"nice":false,"zero":false}},
"y":{"field":"s","type":"ordinal","scale":{"type":"point","domain":[19,20.6,22.2,23.8,25.4,27,28.6,30.2,31.8,33.4,35,36.6,38.2,39.8,41.4,43,44.6,46.2,47.8,49.4,51],"range":[2546,2426],"padding":0},"axis":null},
"yOffset":{"field":"vc","type":"quantitative","scale":{"domain":[60,100],"range":[0,-1000],"nice":false,"zero":false}},
"fill":{"field":"m","type":"quantitative","scale":{"type":"linear","domain":[60,65,70,75,80,85,90,95,100],"range":["#1e1e78","#0a0a9c","#1414ff","#0a4ea0","#00b400","#66e000","#ffee00","#ffa000","#ff4800"],"interpolate":"rgb"},"legend":null},
"detail":{"field":"id"},"order":{"value":null}}},
{"data":{"name":"grid"},"mark":{"type":"point","opacity":0},
"encoding":{"x":{"field":"n","type":"quantitative","scale":{"domain":[1.35,0.65],"range":[1333,2133],"nice":false,"zero":false},
"axis":{"orient":"bottom","offset":-269,"values":[1.3,1.2,1.1,1.0,0.9,0.8,0.7],"format":".1f","title":"Nozzle diameter (mm)","titleAngle":7,"titlePadding":88,"titleX":1668}},
"y":{"field":"vc","type":"quantitative","scale":{"domain":[60,100],"range":[2546,1546],"nice":false,"zero":false},
"axis":{"orient":"left","offset":-1333,"values":[60,65,70,75,80,85,90,95,100],"format":"d","title":"Dimensional stability (%)","titlePadding":39,"titleY":2012}}}},
{"data":{"name":"speeds"},"mark":{"type":"point","shape":"M0,0H1","size":1100,"stroke":"#333","strokeWidth":2,"opacity":1},
"encoding":{"x":{"field":"s","type":"ordinal","scale":{"type":"point","domain":[20,25,30,35,40,45,50],"range":[2143.3,2452.7],"padding":0},"axis":null},
"y":{"field":"s","type":"ordinal","scale":{"type":"point","domain":[20,25,30,35,40,45,50],"range":[2542.25,2429.75],"padding":0},"axis":null}}},
{"data":{"name":"speeds"},"mark":{"type":"text","fontSize":42,"dx":48,"dy":8,"align":"center","baseline":"middle","color":"#222"},
"encoding":{"x":{"field":"s","type":"ordinal","scale":{"type":"point","domain":[20,25,30,35,40,45,50],"range":[2143.3,2452.7],"padding":0},"axis":null},
"y":{"field":"s","type":"ordinal","scale":{"type":"point","domain":[20,25,30,35,40,45,50],"range":[2542.25,2429.75],"padding":0},"axis":null},
"text":{"field":"s","type":"quantitative"}}},
{"data":{"name":"stitle"},"mark":{"type":"text","fontSize":52,"dx":88,"dy":155,"angle":-33,"align":"center","baseline":"middle","color":"#222"},
"encoding":{"x":{"field":"s","type":"ordinal","scale":{"type":"point","domain":[20,25,30,35,40,45,50],"range":[2143.3,2452.7],"padding":0},"axis":null},
"y":{"field":"s","type":"ordinal","scale":{"type":"point","domain":[20,25,30,35,40,45,50],"range":[2542.25,2429.75],"padding":0},"axis":null},
"text":{"field":"t"}}},
{"data":{"name":"legC"},"mark":{"type":"square","size":20},
"encoding":{"x":{"datum":0.171,"type":"quantitative","scale":{"domain":[1.35,0.65],"range":[1333,2133],"nice":false,"zero":false},"axis":null},
"y":{"datum":77.84,"type":"quantitative","scale":{"domain":[60,100],"range":[2546,1546],"nice":false,"zero":false},"axis":null},
"color":{"field":"lab","type":"ordinal","scale":{"domain":["60","65","70","75","80","85","90","95","100"],"range":["#1e1e78","#0a0a9c","#1414ff","#0a4ea0","#00b400","#66e000","#ffee00","#ffa000","#ff4800"]},
"legend":{"orient":"none","legendX":2570,"legendY":1865,"title":null,"symbolType":"M-1,-0.66H3.8V0.66H-1Z","symbolSize":1139,"labelOffset":72,"rowPadding":13}}}},
{"data":{"values":[{"t":"c"}]},"mark":{"type":"text","fontSize":46,"fontWeight":"bold","align":"center","baseline":"middle","color":"#111"},
"encoding":{"x":{"datum":1.496,"type":"quantitative","scale":{"domain":[1.35,0.65],"range":[1333,2133],"nice":false,"zero":false},"axis":null},
"y":{"datum":102.64,"type":"quantitative","scale":{"domain":[60,100],"range":[2546,1546],"nice":false,"zero":false},"axis":null},
"text":{"field":"t"}}}
],
"resolve":{"scale":{"x":"independent","y":"independent","xOffset":"independent","yOffset":"independent","fill":"independent","color":"independent"},"axis":{"x":"independent","y":"independent"},"legend":{"color":"independent","fill":"independent"}}
}
